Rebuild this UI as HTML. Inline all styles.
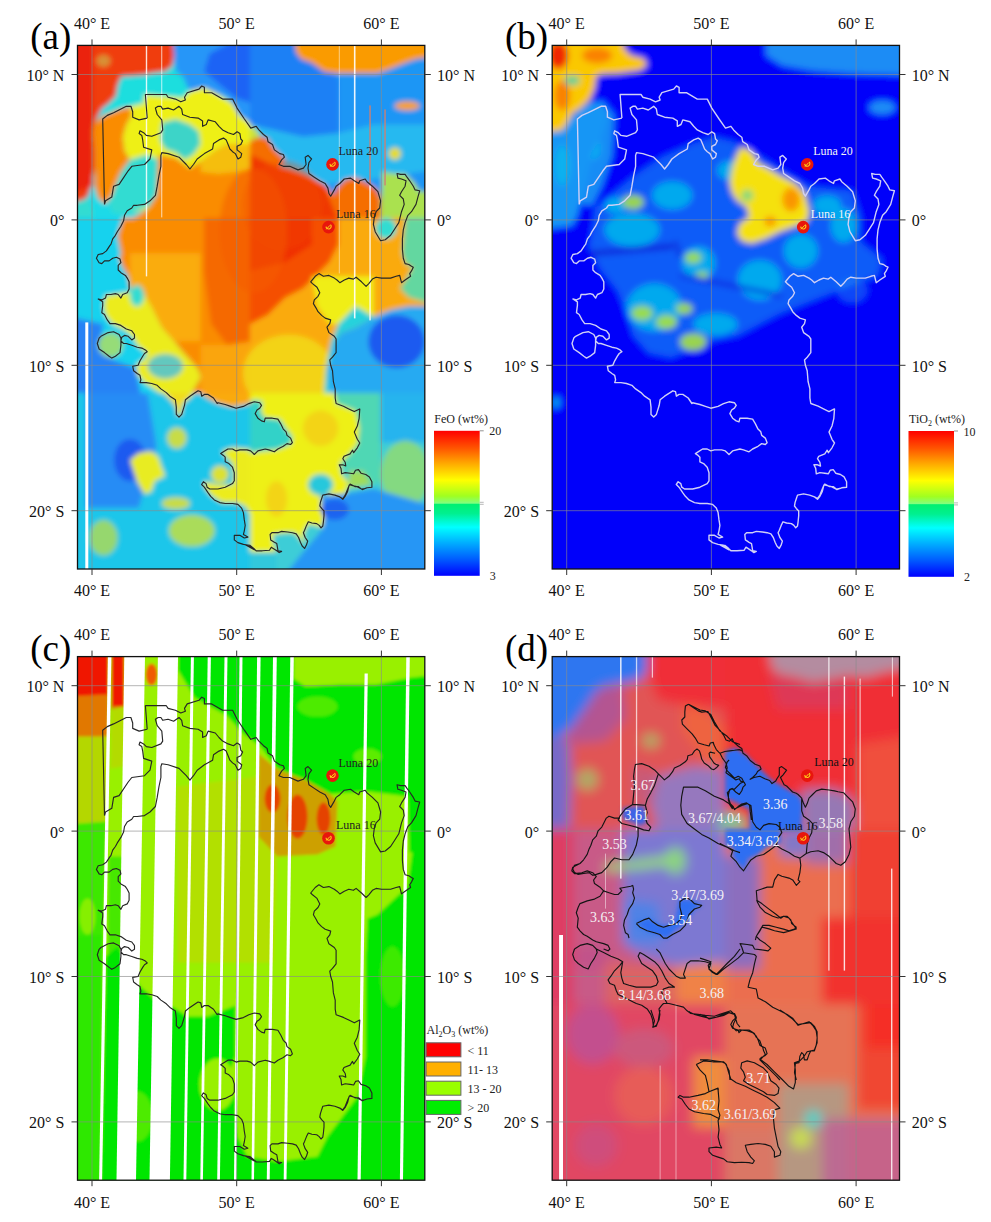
<!DOCTYPE html>
<html><head><meta charset="utf-8"><style>
html,body{margin:0;padding:0;background:#fff;}
svg{display:block;}
.t{font-family:"Liberation Serif",serif;font-size:16px;fill:#111;}
.s{font-family:"Liberation Serif",serif;font-size:12px;fill:#222;}
.lu{font-family:"Liberation Serif",serif;font-size:12px;}
.dl{font-family:"Liberation Serif",serif;font-size:14px;fill:#f4f0f4;}
.pl{font-family:"Liberation Serif",serif;font-size:37px;fill:#000;}
</style></head><body>
<svg width="991" height="1222" viewBox="0 0 991 1222">
<rect width="991" height="1222" fill="#fff"/>
<g transform="translate(77.5,45.4)"><svg x="0" y="0" width="347.3" height="523.6" viewBox="0 0 347.3 523.6" overflow="hidden"><filter id="fa" x="-5%" y="-5%" width="110%" height="110%"><feGaussianBlur stdDeviation="2.5"/></filter><g filter="url(#fa)"><rect x="-20" y="-20" width="390" height="570" fill="rgb(30,185,240)"/><polygon points="-15.0,-15.0 174.5,-15.0 174.5,174.6 -15.0,174.6" fill="rgb(30,218,232)"/><polygon points="-15.0,-15.0 94.9,-15.0 96.6,10.2 94.9,20.8 87.8,26.1 73.7,27.9 66.6,29.6 52.5,30.5 43.6,31.4 40.1,40.2 38.3,50.8 31.3,57.9 24.2,63.2 20.7,70.2 17.2,77.3 15.4,87.9 17.2,105.6 17.2,123.2 13.6,140.9 10.1,151.5 4.8,155.0 -15.0,158.5" fill="rgb(240,62,10)"/><polygon points="-15.0,-15.0 15.4,-15.0 15.4,140.9 -15.0,149.7" fill="rgb(235,35,10)"/><ellipse cx="26.0" cy="15.5" rx="7.1" ry="6.2" fill="rgb(200,200,80)" opacity="0.6"/><polygon points="17.2,77.3 26.0,70.2 34.8,66.7 43.6,63.2 52.5,61.4 54.2,70.2 48.9,79.1 45.4,91.4 47.2,105.6 52.5,114.4 43.6,126.7 38.3,139.1 34.8,149.7 27.8,158.5 20.7,153.2 17.2,140.9 17.2,105.6 15.4,87.9" fill="rgb(250,140,0)"/><polygon points="43.6,31.4 52.5,30.5 66.6,29.6 73.7,27.9 87.8,26.1 94.9,20.8 105.5,31.4 109.0,40.2 112.5,45.5 105.5,52.6 87.8,50.8 70.1,50.8 66.6,57.9 52.5,61.4 43.6,63.2 34.8,66.7 26.0,70.2 31.3,57.9 38.3,50.8 40.1,40.2" fill="rgb(30,222,222)"/><polygon points="94.9,-15.0 174.5,-15.0 174.5,79.1 167.3,73.8 158.4,66.7 154.9,57.9 149.6,52.6 140.8,49.0 133.7,45.5 126.6,42.0 121.3,43.7 112.5,45.5 109.0,40.2 105.5,31.4 98.4,26.1 96.6,10.2" fill="rgb(40,150,248)"/><polygon points="131.9,8.4 174.5,-15.0 174.5,57.9 158.4,52.6 140.8,38.4 126.6,26.1" fill="rgb(30,100,245)"/><polygon points="66.6,49.0 105.5,52.6 112.5,45.5 126.6,42.0 140.8,49.0 154.9,57.9 162.0,70.2 174.5,79.1 174.5,98.5 163.7,98.5 149.6,98.5 137.2,105.6 123.1,116.1 112.5,123.2 98.4,112.6 80.7,109.1 82.5,132.0 79.0,149.7 73.7,160.3 70.1,163.8 52.5,167.4 52.5,114.4 47.2,105.6 45.4,91.4 48.9,79.1 54.2,70.2 52.5,61.4 66.6,57.9" fill="rgb(238,240,22)"/><polygon points="84.3,77.3 98.4,73.8 112.5,79.1 121.3,86.1 123.1,98.5 116.0,109.1 107.2,114.4 98.4,107.3 87.8,103.8 82.5,95.0" fill="rgb(60,212,200)"/><polygon points="52.5,114.4 70.1,109.1 80.7,114.4 82.5,132.0 79.0,149.7 73.7,160.3 61.3,163.8 52.5,167.4 43.6,169.1 34.8,167.4 31.3,158.5 38.3,139.1 43.6,126.7" fill="rgb(50,220,210)"/><polygon points="80.7,109.1 98.4,112.6 112.5,123.2 123.1,116.1 137.2,105.6 149.6,98.5 163.7,98.5 174.5,98.5 174.5,174.6 52.5,174.6 70.1,163.8 79.0,149.7" fill="rgb(250,140,0)"/><polygon points="123.1,116.1 137.2,105.6 149.6,98.5 174.5,98.5 174.5,123.2 158.4,126.7 140.8,128.5 123.1,126.7" fill="rgb(245,190,10)"/><polygon points="-15.0,158.5 4.8,155.0 10.1,151.5 13.6,158.5 17.2,174.6 -15.0,174.6" fill="rgb(50,220,210)"/><polygon points="172.5,-15.0 362.0,-15.0 362.0,174.6 172.5,174.6" fill="rgb(30,150,245)"/><polygon points="172.5,-15.0 225.5,-15.0 260.8,34.9 260.8,87.9 225.5,91.4 172.5,79.1" fill="rgb(30,128,245)"/><polygon points="260.8,87.9 225.5,91.4 172.5,79.1 172.5,123.2 207.8,123.2 246.7,139.1 260.8,137.3 296.1,133.8 362.0,123.2 362.0,79.1 296.1,79.1" fill="rgb(40,185,240)"/><polygon points="216.6,-15.0 362.0,-15.0 362.0,10.2 338.5,13.7 327.9,17.3 319.1,20.8 310.2,24.3 299.6,27.9 278.5,27.9 260.8,27.9 246.7,26.1 234.3,17.3 223.7,13.7 218.4,6.7" fill="rgb(250,155,0)"/><polygon points="172.5,95.0 183.1,91.4 190.2,93.2 195.5,102.0 202.5,109.1 207.8,114.4 202.5,121.4 211.3,123.2 221.9,126.7 230.8,130.3 237.8,133.8 246.7,139.1 252.0,144.4 255.5,149.7 260.8,140.9 267.9,133.8 278.5,132.0 285.5,135.6 292.6,139.1 299.6,144.4 303.2,153.2 303.2,174.6 172.5,174.6" fill="rgb(245,110,0)"/><polygon points="172.5,109.1 199.0,121.4 225.5,130.3 246.7,140.9 260.8,174.6 172.5,174.6" fill="rgb(240,55,0)"/><polygon points="172.5,80.8 177.8,82.6 183.1,91.4 172.5,95.0" fill="rgb(200,225,60)"/><polygon points="304.9,126.7 319.1,128.5 327.9,128.5 336.7,137.3 342.0,146.2 362.0,146.2 362.0,174.6 303.2,174.6" fill="rgb(170,225,80)"/><ellipse cx="317.3" cy="108.2" rx="6.2" ry="6.2" fill="rgb(230,220,40)"/><ellipse cx="329.7" cy="60.5" rx="12.4" ry="4.4" fill="rgb(250,160,20)"/><polygon points="-15.0,172.6 174.5,172.6 174.5,347.6 -15.0,347.6" fill="rgb(25,210,238)"/><polygon points="-15.0,269.7 26.0,278.6 22.5,296.2 34.8,313.9 57.8,322.7 63.1,347.6 -15.0,347.6" fill="rgb(40,130,245)"/><ellipse cx="33.1" cy="299.7" rx="12.4" ry="12.4" fill="rgb(150,220,120)"/><polygon points="45.4,172.6 174.5,172.6 174.5,347.6 114.3,347.6 123.1,331.5 119.6,322.7 105.5,306.8 96.6,296.2 84.3,282.1 79.0,271.5 73.7,260.9 66.6,248.5 57.8,243.2 52.5,243.2 50.7,230.9 45.4,222.0 41.9,213.2 43.6,207.9 40.1,190.3" fill="rgb(250,140,0)"/><polygon points="52.5,207.9 123.1,207.9 123.1,296.2 96.6,296.2 84.3,282.1 79.0,271.5 73.7,260.9 66.6,248.5 57.8,243.2 52.5,243.2" fill="rgb(250,172,10)"/><polygon points="126.6,172.6 174.5,172.6 174.5,296.2 149.6,299.7 133.7,278.6 126.6,225.6" fill="rgb(245,105,0)"/><polygon points="123.1,299.7 149.6,299.7 174.5,296.2 174.5,347.6 123.1,347.6" fill="rgb(250,165,10)"/><polygon points="27.8,250.3 50.7,246.8 57.8,243.2 66.6,248.5 73.7,260.9 79.0,271.5 84.3,282.1 96.6,296.2 105.5,306.8 119.6,322.7 123.1,331.5 114.3,347.6 82.5,347.6 66.6,336.8 59.5,328.0 59.5,319.2 66.6,313.9 70.1,308.6 59.5,299.7 56.0,292.7 48.9,285.6 34.8,278.6 27.8,269.7 26.0,260.9" fill="rgb(236,236,30)"/><ellipse cx="59.5" cy="250.3" rx="7.1" ry="10.6" fill="rgb(50,220,210)"/><ellipse cx="87.8" cy="320.9" rx="17.7" ry="12.4" fill="rgb(100,200,190)"/><polygon points="172.5,172.6 362.0,172.6 362.0,347.6 172.5,347.6" fill="rgb(250,170,10)"/><polygon points="172.5,172.6 260.8,172.6 260.8,199.1 252.0,216.7 239.6,229.1 225.5,243.2 207.8,252.1 190.2,269.7 172.5,278.6" fill="rgb(245,80,0)"/><polygon points="172.5,172.6 234.3,172.6 234.3,199.1 207.8,216.7 172.5,225.6" fill="rgb(240,45,0)"/><polygon points="234.3,230.9 296.1,230.9 296.1,278.6 252.0,278.6 239.6,260.9" fill="rgb(240,238,25)"/><ellipse cx="211.3" cy="328.0" rx="45.9" ry="38.8" fill="rgb(242,215,22)" opacity="0.9"/><polygon points="327.9,172.6 362.0,172.6 362.0,260.9 331.4,252.1 322.6,243.2 327.9,234.4 335.0,222.0 327.9,218.5 324.4,207.9 326.1,190.3" fill="rgb(100,215,160)"/><ellipse cx="308.5" cy="183.2" rx="10.6" ry="10.6" fill="rgb(50,220,210)"/><polygon points="278.5,260.9 296.1,271.5 278.5,282.1 264.3,287.4 257.3,296.2 255.5,313.9 253.7,326.2 255.5,347.6 246.7,347.6 248.4,326.2 250.2,313.9 253.7,296.2 260.8,278.6" fill="rgb(40,210,220)"/><polygon points="362.0,260.9 331.4,260.9 313.8,264.4 296.1,271.5 278.5,282.1 264.3,287.4 257.3,296.2 253.7,313.9 250.2,322.7 252.0,347.6 362.0,347.6" fill="rgb(40,170,242)"/><ellipse cx="319.1" cy="296.2" rx="28.3" ry="26.5" fill="rgb(30,90,240)"/><polygon points="-15.0,347.6 174.5,347.6 174.5,540.0 -15.0,540.0" fill="rgb(30,198,234)"/><polygon points="8.3,347.6 70.1,347.6 79.0,400.6 61.3,462.4 8.3,462.4" fill="rgb(40,140,245)"/><ellipse cx="52.5" cy="414.7" rx="15.9" ry="21.2" fill="rgb(30,90,240)"/><polygon points="52.5,414.7 61.3,407.6 73.7,405.9 80.7,411.2 84.3,421.8 87.8,430.6 77.2,435.9 73.7,446.5 66.6,448.3 59.5,435.9 56.0,425.3" fill="rgb(232,236,32)"/><ellipse cx="99.3" cy="392.6" rx="9.7" ry="10.6" fill="rgb(200,220,70)"/><polygon points="86.0,347.6 116.0,347.6 112.5,352.9 105.5,358.2 103.7,368.8 100.2,370.6 98.4,361.7 93.1,354.7" fill="rgb(240,220,30)"/><polygon points="123.1,347.6 174.5,347.6 174.5,358.2 154.9,361.7 140.8,358.2 130.2,352.9" fill="rgb(250,170,10)"/><polygon points="144.3,405.9 154.9,402.3 174.5,404.1 174.5,471.2 167.3,460.6 158.4,457.1 144.3,457.1 133.7,450.0 126.6,441.2 126.6,435.9 133.7,437.7 140.8,439.4 154.9,439.4 156.7,430.6 154.9,418.2 149.6,412.9" fill="rgb(236,236,30)"/><ellipse cx="142.5" cy="428.8" rx="8.8" ry="8.8" fill="rgb(220,225,50)"/><ellipse cx="98.4" cy="458.0" rx="14.1" ry="6.2" fill="rgb(200,220,70)"/><ellipse cx="26.0" cy="492.4" rx="14.1" ry="17.7" fill="rgb(150,215,110)"/><ellipse cx="114.3" cy="485.3" rx="23.0" ry="15.9" fill="rgb(170,220,90)"/><polygon points="172.5,347.6 362.0,347.6 362.0,540.0 172.5,540.0" fill="rgb(60,205,215)"/><polygon points="186.6,347.6 257.3,347.6 259.0,358.2 278.5,365.3 282.0,382.9 280.2,398.8 271.4,409.4 262.6,418.2 264.3,428.8 271.4,437.7 267.9,448.3 260.8,453.6 246.7,450.0 243.1,457.1 246.7,471.2 244.9,481.8 230.8,478.3 225.5,488.9 227.2,499.5 221.9,492.4 216.6,487.1 207.8,487.1 195.5,488.9 195.5,497.7 199.0,506.5 172.5,506.5 172.5,407.6 181.3,405.9 199.0,404.1 213.1,398.8 214.9,391.7 207.8,382.9 202.5,374.1 186.6,372.3 183.1,365.3 184.9,356.4 177.8,354.7 172.5,356.4 172.5,347.6" fill="rgb(238,240,22)"/><ellipse cx="243.1" cy="382.9" rx="17.7" ry="17.7" fill="rgb(245,200,20)" opacity="0.7"/><ellipse cx="199.0" cy="453.6" rx="10.6" ry="17.7" fill="rgb(245,200,20)" opacity="0.7"/><polygon points="172.5,356.4 177.8,354.7 184.9,356.4 183.1,365.3 186.6,372.3 202.5,374.1 207.8,382.9 214.9,391.7 213.1,398.8 199.0,404.1 181.3,405.9 172.5,407.6" fill="rgb(50,210,200)"/><polygon points="257.3,347.6 303.2,347.6 303.2,435.9 294.3,439.4 285.5,425.3 278.5,423.5 267.9,427.1 264.3,418.2 271.4,409.4 280.2,398.8 282.0,382.9 278.5,365.3 259.0,358.2" fill="rgb(80,215,180)"/><polygon points="271.4,425.3 285.5,425.3 294.3,439.4 271.4,443.0" fill="rgb(160,220,90)"/><polygon points="303.2,347.6 362.0,347.6 362.0,397.0 303.2,397.0" fill="rgb(40,180,238)"/><ellipse cx="327.9" cy="428.8" rx="24.7" ry="33.6" fill="rgb(140,218,120)" opacity="0.9"/><ellipse cx="243.1" cy="439.4" rx="12.4" ry="10.6" fill="rgb(40,200,220)"/><polygon points="243.1,450.0 267.9,448.3 296.1,443.0 362.0,462.4 362.0,540.0 199.0,540.0 225.5,506.5 244.9,483.6 246.7,471.2" fill="rgb(40,150,245)"/><ellipse cx="257.3" cy="464.1" rx="14.1" ry="10.6" fill="rgb(30,100,240)"/><polygon points="172.5,506.5 199.0,506.5 199.0,540.0 172.5,540.0" fill="rgb(50,200,220)"/><ellipse cx="176.0" cy="185.0" rx="34.0" ry="62.0" fill="rgb(244,92,0)" opacity="0.55"/><ellipse cx="205.0" cy="160.0" rx="40.0" ry="45.0" fill="rgb(244,80,0)" opacity="0.35"/></g><rect x="7.8" y="277" width="3.0" height="247" fill="#fff" opacity="1"/><rect x="68.3" y="0" width="1.4" height="231" fill="#fff" opacity="0.85"/><rect x="83.6" y="0" width="1.2" height="172" fill="#fff" opacity="0.6"/><rect x="261.3" y="0" width="1.0" height="228" fill="#fff" opacity="0.5"/><rect x="276.4" y="0" width="1.6" height="273" fill="#fff" opacity="0.9"/><rect x="291.8" y="60" width="1.5" height="80" fill="#d08070" opacity="0.9"/><rect x="291.8" y="140" width="1.5" height="135" fill="#fff" opacity="0.8"/><rect x="306.8" y="64" width="1.5" height="76" fill="#d08070" opacity="0.9"/><line x1="14.5" y1="0" x2="14.5" y2="523.6" stroke="#8a8a8a" stroke-width="0.8" opacity="0.8"/>
<line x1="159.2" y1="0" x2="159.2" y2="523.6" stroke="#8a8a8a" stroke-width="0.8" opacity="0.8"/>
<line x1="303.9" y1="0" x2="303.9" y2="523.6" stroke="#8a8a8a" stroke-width="0.8" opacity="0.8"/>
<line x1="0" y1="29.1" x2="347.3" y2="29.1" stroke="#8a8a8a" stroke-width="0.8" opacity="0.8"/>
<line x1="0" y1="174.5" x2="347.3" y2="174.5" stroke="#8a8a8a" stroke-width="0.8" opacity="0.8"/>
<line x1="0" y1="319.9" x2="347.3" y2="319.9" stroke="#8a8a8a" stroke-width="0.8" opacity="0.8"/>
<line x1="0" y1="465.3" x2="347.3" y2="465.3" stroke="#8a8a8a" stroke-width="0.8" opacity="0.8"/><path d="M27.0,159.0 L25.2,73.6 L29.8,70.0 L36.1,67.3 L48.8,60.9 L53.4,60.9 L55.2,66.4 L55.2,71.8 L61.6,74.5 L69.7,72.7 M69.7,72.7 L67.9,49.1 L88.8,49.1 L90.6,51.8 L97.9,53.7 L103.3,56.4 L107.9,54.6 L107.0,51.8 L109.7,47.3 L121.5,43.7 L124.2,40.6 L126.9,41.9 L126.9,47.3 L134.2,47.3 L145.1,53.7 L155.1,53.7 L159.6,62.7 L166.9,73.6 L173.3,82.7 L178.7,80.9 L181.4,84.5 L186.0,89.1 L189.6,91.8 L190.5,96.3 L195.0,99.1 L196.9,104.5 L202.3,108.2 L205.9,109.1 L206.9,111.8 L204.1,114.5 L201.4,119.1 L205.9,120.9 L212.3,120.9 L220.5,124.5 L225.9,122.7 L228.6,119.1 L227.7,111.8 L230.5,110.0 L234.1,113.6 L231.4,117.2 L230.5,122.7 L231.4,128.1 L236.8,131.8 L242.3,135.4 L247.7,138.1 L250.4,142.7 L251.4,148.1 L253.2,150.8 L256.8,144.5 L258.6,140.8 L262.3,138.1 L266.8,133.6 L273.1,132.7 L276.8,135.4 L281.3,138.1 L282.2,135.4 L287.7,133.6 L289.5,136.3 L294.9,140.8 L300.4,146.3 L303.1,155.4 L302.2,162.6 L298.6,166.3 L296.8,171.7 L295.9,179.0 L297.7,186.3 L303.1,195.3 L307.7,194.4 L313.1,189.9 L316.7,184.4 L321.3,177.2 L324.0,166.3 L326.7,159.0 L325.8,153.6 L322.2,149.9 L324.0,146.3 L327.6,140.8 L328.5,135.4 L324.0,133.6 L320.4,132.7 L319.5,128.1 L323.1,129.0 L327.6,129.0 L329.5,131.8 L332.2,135.4 L335.8,140.8 L337.6,144.5 L342.2,145.4 L340.4,151.7 L338.5,159.0 L334.0,166.3 L330.4,169.9 L327.6,177.2 L325.8,184.4 L324.9,193.5 L324.9,203.7 L325.8,212.8 L327.6,218.2 L331.3,219.1 L334.0,220.9 L335.8,221.8 L334.0,225.5 L332.2,228.2 L333.1,230.9 L327.6,234.6 L324.0,237.3 L322.2,230.0 L318.6,230.9 L313.1,232.7 L304.0,232.7 L298.6,231.8 L294.9,233.7 L291.3,238.2 L288.6,240.9 L284.0,236.4 L278.6,231.8 L275.9,233.7 L271.3,232.7 L266.8,234.6 L262.3,237.3 L259.5,234.6 L256.8,232.7 L251.4,230.0 L245.9,230.9 L241.4,228.2 L237.7,230.9 L233.2,236.4 L235.0,238.2 L239.5,241.8 L242.3,247.3 L240.5,250.9 L236.8,254.5 L235.9,258.2 L238.6,262.7 L240.5,266.3 L244.1,270.0 L247.7,272.7 L253.2,274.5 L252.3,278.2 L249.5,281.8 L251.4,287.2 L256.8,290.9 L258.6,293.6 L258.6,307.2 L255.0,311.8 L252.3,314.5 L253.2,319.9 L255.0,325.4 L255.9,336.3 L257.7,343.5 L257.7,352.6 L258.6,358.1 L265.9,360.8 L271.3,363.5 L276.8,366.2 L282.2,363.5 L282.3,363.7 L281.6,373.3 L279.8,380.6 L276.8,386.7 L279.8,393.9 L282.3,397.6 L279.8,402.4 L276.2,407.3 L275.0,404.8 L272.6,408.5 L266.5,410.9 L265.3,413.3 L267.7,416.9 L268.3,420.6 L265.3,419.4 L261.7,419.4 L263.5,423.0 L264.1,428.4 L267.7,427.2 L272.6,427.8 L276.2,428.4 L278.0,424.8 L281.0,424.2 L283.5,427.8 L288.3,429.1 L291.9,431.5 L294.4,436.3 L294.4,441.8 L289.5,442.4 L284.7,444.2 L281.0,441.2 L277.4,441.2 L272.6,438.7 L271.4,440.6 L270.1,446.0 L267.7,450.8 L265.3,453.9 L262.3,451.5 L257.4,449.7 L251.4,448.5 L245.3,449.7 L244.1,453.3 L242.9,457.0 L242.3,460.6 L244.1,463.0 L246.5,465.5 L246.5,470.3 L245.9,476.4 L245.3,480.6 L243.5,482.4 L241.7,480.0 L239.2,478.2 L234.4,477.6 L230.8,476.4 L229.0,480.0 L227.1,484.8 L225.9,487.3 L227.7,492.1 L230.2,495.7 L229.0,499.4 L227.1,503.0 L224.7,500.6 L222.9,496.9 L221.1,492.1 L218.7,488.5 L215.0,487.3 L210.2,486.6 L204.1,486.0 L200.5,487.3 L194.4,487.3 L192.6,489.1 L193.2,494.5 L196.9,496.9 L199.3,498.2 L199.9,501.8 L200.5,505.4 L204.1,506.0 L201.7,507.2 L199.3,505.4 L195.7,503.0 L193.8,501.8 L192.0,504.8 L184.8,505.4 L178.7,505.4 L176.3,503.0 L172.6,500.0 L167.8,499.4 L176.8,504.4 L171.3,499.9 L165.9,499.0 L160.4,497.2 L156.8,494.5 L156.8,489.9 L162.3,489.9 L166.8,492.6 L170.4,491.7 L165.9,489.0 L166.8,485.4 L167.7,479.9 L166.8,474.5 L165.9,467.2 L164.1,462.7 L160.4,459.0 L155.0,458.1 L147.7,458.1 L142.3,457.2 L136.8,454.5 L133.2,450.9 L130.5,447.2 L126.8,441.8 L124.1,439.1 L125.9,436.3 L128.6,438.2 L129.6,441.8 L132.3,443.6 L140.5,443.6 L147.7,441.8 L155.0,438.2 L156.8,435.4 L156.8,427.3 L155.0,421.8 L151.4,418.2 L147.7,416.4 L147.7,411.8 L145.9,410.0 L143.2,408.2 L145.9,406.4 L150.4,403.6 L155.0,403.6 L158.6,405.5 L162.3,404.5 L169.5,404.5 L173.1,405.5 L175.0,407.3 L176.8,409.1 L180.4,405.5 L187.7,403.6 L191.3,404.5 L196.8,406.4 L200.4,403.6 L205.8,400.9 L209.5,398.2 L213.1,399.1 L214.9,397.3 L213.1,392.7 L209.5,390.0 L208.6,386.4 L205.8,383.7 L203.1,378.2 L200.4,373.7 L194.9,372.8 L187.7,372.8 L186.8,376.4 L184.0,375.5 L180.4,372.8 L177.7,368.2 L179.5,364.6 L182.2,362.8 L184.0,360.0 L182.2,357.3 L176.8,356.4 L171.3,358.2 L165.9,361.0 L158.6,362.8 L153.2,361.0 L147.7,359.1 L140.5,357.3 L139.7,358.1 L136.0,352.6 L130.6,349.0 L126.9,349.0 L124.2,350.8 L123.3,346.3 L120.6,345.4 L117.9,347.2 L112.4,350.8 L107.9,354.4 L107.0,359.9 L104.2,369.0 L101.5,371.7 L98.8,369.0 L98.8,361.7 L97.9,354.4 L92.4,350.8 L88.8,347.2 L83.4,343.5 L79.7,339.9 L74.3,338.1 L68.8,337.2 L62.5,337.2 L63.4,334.5 L62.5,329.9 L59.7,328.1 L56.1,325.4 L55.2,320.8 L60.6,319.9 L62.5,315.4 L65.2,310.8 L67.0,308.1 L69.7,306.3 L67.9,304.5 L64.3,302.7 L59.7,301.8 L54.3,299.9 L48.8,298.1 L46.1,298.1 L43.4,295.4 L44.3,291.8 L47.0,290.0 L50.7,290.9 L54.3,294.5 L57.0,292.7 L57.0,289.1 L54.3,285.4 L48.8,283.6 L43.4,280.0 L37.9,278.2 L32.5,278.2 L29.8,274.5 L27.0,269.1 L24.3,267.3 L25.2,260.0 L25.2,256.4 L20.7,253.6 L24.3,254.5 L28.0,252.7 L28.9,249.1 L33.4,249.1 L37.9,248.2 L40.7,249.1 L43.4,252.7 L45.2,249.1 L49.7,247.3 L51.6,243.6 L51.6,236.4 L49.7,232.7 L47.9,230.0 L43.4,227.3 L40.7,224.6 L40.7,220.0 L43.4,217.3 L42.5,213.7 L38.9,211.9 L35.2,212.8 L31.6,215.5 L27.0,215.5 L24.3,218.2 L21.6,217.3 L18.9,212.8 L20.7,209.1 L25.2,208.2 L28.9,205.5 L32.5,200.0 L33.4,199.0 L35.2,193.5 L37.9,189.9 L39.8,186.3 L43.4,180.8 L46.1,175.4 L47.0,169.9 L49.7,165.4 L54.3,162.6 L56.1,159.9 L59.7,159.9 L67.0,159.0 L72.5,155.4 L77.9,149.9 L79.7,140.8 L81.5,129.9 L83.4,120.9 L83.4,110.0 L84.3,107.2 L90.6,108.2 L101.5,111.8 L108.8,119.1 L112.4,123.6 L116.0,119.1 L119.7,113.6 L126.9,108.2 L135.1,103.6 L136.0,98.2 L141.5,94.5 L146.0,92.7 L148.7,94.5 L150.6,99.1 L152.4,103.6 L155.1,106.3 L157.8,108.2 L160.5,113.6 L163.3,111.8 L164.2,108.2 L159.6,104.5 L159.6,100.9 L163.3,99.1 L165.1,95.4 L163.3,93.6 L162.4,88.2 L159.6,86.4 L156.0,89.1 L150.6,87.3 L145.1,84.5 L141.5,80.9 L137.8,76.4 L130.6,74.5 L128.8,79.1 L125.1,80.9 L125.1,75.5 L120.6,72.7 L112.4,71.8 L105.1,69.1 L104.2,63.7 L101.5,60.9 L96.1,64.6 L90.6,62.7 L85.2,63.7 L83.4,60.9 L80.6,60.9 L77.9,62.7 L79.7,69.1 L84.3,74.5 L85.2,84.5 L83.4,87.3 L74.3,90.9 L68.8,90.0 L66.1,87.3 L62.5,85.4 L61.6,88.2 L64.3,90.0 L65.2,94.5 L66.1,101.8 L74.3,104.5 L72.5,113.6 L67.0,119.1 L54.3,120.9 L50.7,125.4 L41.6,139.0 L36.1,140.8 L34.3,151.7 L28.0,155.4 L27.0,159.0 M23.4,290.9 L30.7,287.2 L36.1,286.3 L41.6,289.1 L43.4,292.7 L43.4,299.9 L42.5,307.2 L37.9,310.8 L34.3,312.7 L31.6,310.8 L27.0,307.2 L21.6,303.6 L19.8,298.1 L21.6,292.7 L23.4,290.9 M287.8,443.1 L284.0,443.7 L279.2,441.2 L271.9,439.4 L270.1,443.7 L267.7,449.7 L265.3,453.3 L262.3,451.5" fill="none" stroke="#262626" stroke-width="1.15" stroke-linejoin="round"/><circle cx="255" cy="119" r="6.3" fill="#e8160c"/><path d="M252.5,118.5 a2.6,2.6 0 1 0 4.5,-2" fill="none" stroke="#ffd21a" stroke-width="1.1"/><path d="M252.8,121.2 L256.5,117.2" stroke="#ffd21a" stroke-width="1"/><circle cx="251" cy="181.7" r="6.3" fill="#e8160c"/><path d="M248.5,181.2 a2.6,2.6 0 1 0 4.5,-2" fill="none" stroke="#ffd21a" stroke-width="1.1"/><path d="M248.8,183.89999999999998 L252.5,179.89999999999998" stroke="#ffd21a" stroke-width="1"/><text x="261" y="110" class="lu" fill="#222">Luna 20</text><text x="258.5" y="172.7" class="lu" fill="#222">Luna 16</text></svg><rect x="0" y="0" width="347.3" height="523.6" fill="none" stroke="#111" stroke-width="1.3"/></g>
<line x1="92.0" y1="39.4" x2="92.0" y2="45.4" stroke="#333" stroke-width="1"/>
<line x1="92.0" y1="569.0" x2="92.0" y2="575.0" stroke="#333" stroke-width="1"/>
<text x="92.0" y="28.7" text-anchor="middle" class="t">40° E</text>
<text x="92.0" y="596.3" text-anchor="middle" class="t">40° E</text>
<line x1="236.7" y1="39.4" x2="236.7" y2="45.4" stroke="#333" stroke-width="1"/>
<line x1="236.7" y1="569.0" x2="236.7" y2="575.0" stroke="#333" stroke-width="1"/>
<text x="236.7" y="28.7" text-anchor="middle" class="t">50° E</text>
<text x="236.7" y="596.3" text-anchor="middle" class="t">50° E</text>
<line x1="381.4" y1="39.4" x2="381.4" y2="45.4" stroke="#333" stroke-width="1"/>
<line x1="381.4" y1="569.0" x2="381.4" y2="575.0" stroke="#333" stroke-width="1"/>
<text x="381.4" y="28.7" text-anchor="middle" class="t">60° E</text>
<text x="381.4" y="596.3" text-anchor="middle" class="t">60° E</text>
<line x1="71.5" y1="74.5" x2="77.5" y2="74.5" stroke="#333" stroke-width="1"/>
<line x1="424.8" y1="74.5" x2="430.8" y2="74.5" stroke="#333" stroke-width="1"/>
<text x="64.4" y="80.9" text-anchor="end" class="t">10° N</text>
<text x="437.0" y="80.9" class="t">10° N</text>
<line x1="71.5" y1="219.9" x2="77.5" y2="219.9" stroke="#333" stroke-width="1"/>
<line x1="424.8" y1="219.9" x2="430.8" y2="219.9" stroke="#333" stroke-width="1"/>
<text x="64.4" y="226.3" text-anchor="end" class="t">0°</text>
<text x="437.0" y="226.3" class="t">0°</text>
<line x1="71.5" y1="365.3" x2="77.5" y2="365.3" stroke="#333" stroke-width="1"/>
<line x1="424.8" y1="365.3" x2="430.8" y2="365.3" stroke="#333" stroke-width="1"/>
<text x="64.4" y="371.7" text-anchor="end" class="t">10° S</text>
<text x="437.0" y="371.7" class="t">10° S</text>
<line x1="71.5" y1="510.7" x2="77.5" y2="510.7" stroke="#333" stroke-width="1"/>
<line x1="424.8" y1="510.7" x2="430.8" y2="510.7" stroke="#333" stroke-width="1"/>
<text x="64.4" y="517.1" text-anchor="end" class="t">20° S</text>
<text x="437.0" y="517.1" class="t">20° S</text>
<text x="30.2" y="49.4" class="pl">(a)</text>
<g transform="translate(552.2,45.4)"><svg x="0" y="0" width="347.3" height="523.6" viewBox="0 0 347.3 523.6" overflow="hidden"><filter id="fb" x="-5%" y="-5%" width="110%" height="110%"><feGaussianBlur stdDeviation="3"/></filter><g filter="url(#fb)"><rect x="-20" y="-20" width="390" height="570" fill="rgb(2,2,250)"/><polygon points="42.7,162.5 64.1,145.3 85.5,128.2 111.2,111.1 141.2,98.2 162.7,91.8 179.8,96.1 192.7,102.5 214.1,115.3 227.0,123.9 257.0,141.0 299.8,145.3 308.4,171.0 308.4,196.7 329.8,213.9 325.5,231.0 299.8,239.6 260.0,255.0 227.8,267.8 185.4,290.0 163.2,294.4 141.0,303.3 118.8,312.2 96.6,307.7 81.0,290.0 74.4,267.8 65.5,245.6 47.8,223.4 36.7,201.2 41.1,179.0" fill="rgb(8,92,248)"/><ellipse cx="79.9" cy="184.5" rx="27.7" ry="16.6" fill="rgb(0,195,235)" opacity="0.75"/><ellipse cx="146.5" cy="217.8" rx="16.6" ry="16.6" fill="rgb(0,195,235)" opacity="0.75"/><ellipse cx="102.1" cy="262.2" rx="27.7" ry="24.0" fill="rgb(0,195,235)" opacity="0.75"/><ellipse cx="207.6" cy="234.5" rx="22.0" ry="20.0" fill="rgb(0,195,235)" opacity="0.75"/><ellipse cx="163.2" cy="278.9" rx="22.0" ry="11.0" fill="rgb(0,195,235)" opacity="0.75"/><ellipse cx="63.3" cy="160.1" rx="11.0" ry="8.0" fill="rgb(0,195,235)" opacity="0.75"/><ellipse cx="248.6" cy="205.7" rx="17.0" ry="17.0" fill="rgb(0,195,235)" opacity="0.75"/><ellipse cx="291.4" cy="180.0" rx="13.0" ry="17.0" fill="rgb(0,195,235)" opacity="0.75"/><ellipse cx="120.0" cy="150.0" rx="20.0" ry="14.0" fill="rgb(0,195,235)" opacity="0.75"/><ellipse cx="180.0" cy="125.0" rx="15.0" ry="10.0" fill="rgb(0,195,235)" opacity="0.75"/><ellipse cx="275.0" cy="160.0" rx="14.0" ry="10.0" fill="rgb(0,195,235)" opacity="0.75"/><ellipse cx="81.0" cy="156.8" rx="10.8" ry="7.2" fill="rgb(170,225,60)" opacity="0.9"/><ellipse cx="89.9" cy="267.8" rx="10.8" ry="7.2" fill="rgb(170,225,60)" opacity="0.9"/><ellipse cx="114.3" cy="276.7" rx="10.8" ry="7.2" fill="rgb(170,225,60)" opacity="0.9"/><ellipse cx="141.0" cy="296.6" rx="13.2" ry="8.8" fill="rgb(170,225,60)" opacity="0.9"/><ellipse cx="132.1" cy="263.3" rx="8.4" ry="5.6" fill="rgb(170,225,60)" opacity="0.9"/><ellipse cx="141.0" cy="212.3" rx="8.4" ry="5.6" fill="rgb(170,225,60)" opacity="0.9"/><ellipse cx="149.9" cy="230.0" rx="6.0" ry="4.0" fill="rgb(170,225,60)" opacity="0.9"/><line x1="41.1" y1="207.9" x2="118.8" y2="201.2" stroke="rgb(10,20,215)" stroke-width="5" stroke-linecap="round"/><line x1="123.2" y1="196.8" x2="127.7" y2="210.1" stroke="rgb(10,20,215)" stroke-width="3" stroke-linecap="round"/><line x1="129.9" y1="230" x2="227.8" y2="250" stroke="rgb(10,30,225)" stroke-width="4" stroke-linecap="round"/><polygon points="26.0,64.0 50.0,55.0 62.0,70.0 60.0,110.0 50.0,140.0 40.0,160.0 27.0,158.0" fill="rgb(20,140,245)"/><ellipse cx="40.0" cy="100.0" rx="8.0" ry="14.0" fill="rgb(0,195,235)" opacity="0.7"/><polygon points="177.4,137.6 179.8,123.0 184.7,108.5 189.5,101.2 199.2,106.1 206.5,118.2 216.2,123.0 228.3,130.3 242.8,137.6 252.5,147.3 257.3,166.6 254.9,176.3 242.8,181.2 228.3,186.0 213.7,193.3 199.2,198.1 189.5,195.7 184.7,188.4 187.1,178.7 196.8,171.5 194.4,161.8 184.7,155.0 179.8,147.3" fill="rgb(245,225,10)"/><ellipse cx="239.0" cy="154.0" rx="9.0" ry="12.0" fill="rgb(250,150,0)"/><ellipse cx="218.0" cy="176.0" rx="6.0" ry="5.0" fill="rgb(250,150,0)"/><ellipse cx="195.0" cy="150.0" rx="6.0" ry="6.0" fill="rgb(60,210,200)" opacity="0.6"/><polygon points="-15.0,-15.0 70.0,-15.0 72.0,3.0 78.6,9.8 91.7,13.0 95.0,19.6 88.4,24.5 65.5,27.8 49.0,28.6 44.0,31.0 42.6,42.5 37.7,54.0 29.5,62.0 19.6,68.8 16.4,78.6 9.8,85.0 3.3,88.4 -15.0,91.7" fill="rgb(250,200,0)"/><ellipse cx="6.0" cy="10.0" rx="10.0" ry="14.0" fill="rgb(240,40,0)"/><ellipse cx="45.0" cy="10.0" rx="15.0" ry="8.0" fill="rgb(250,130,0)"/><ellipse cx="10.0" cy="50.0" rx="8.0" ry="15.0" fill="rgb(250,130,0)"/><ellipse cx="20.0" cy="35.0" rx="8.0" ry="5.0" fill="rgb(60,210,190)" opacity="0.8"/><polygon points="-15.0,88.0 10.0,85.0 20.0,70.0 30.0,62.0 40.0,56.0 50.0,60.0 55.0,70.0 50.0,90.0 40.0,110.0 35.0,130.0 30.0,150.0 25.0,170.0 20.0,180.0 -15.0,185.0" fill="rgb(20,150,245)"/><ellipse cx="10.0" cy="120.0" rx="8.0" ry="20.0" fill="rgb(0,195,235)" opacity="0.6"/><polygon points="214.0,-15.0 362.0,-15.0 362.0,30.0 300.0,28.0 260.0,25.0 230.0,20.0 214.0,10.0" fill="rgb(30,140,245)"/><ellipse cx="330.0" cy="62.0" rx="13.0" ry="7.0" fill="rgb(30,140,245)"/><ellipse cx="300.0" cy="245.0" rx="15.0" ry="12.0" fill="rgb(30,140,245)" opacity="0.5"/><ellipse cx="4.0" cy="357.0" rx="4.0" ry="6.0" fill="rgb(0,195,235)" opacity="0.8"/></g><line x1="14.5" y1="0" x2="14.5" y2="523.6" stroke="#8a8a8a" stroke-width="0.8" opacity="0.8"/>
<line x1="159.2" y1="0" x2="159.2" y2="523.6" stroke="#8a8a8a" stroke-width="0.8" opacity="0.8"/>
<line x1="303.9" y1="0" x2="303.9" y2="523.6" stroke="#8a8a8a" stroke-width="0.8" opacity="0.8"/>
<line x1="0" y1="29.1" x2="347.3" y2="29.1" stroke="#8a8a8a" stroke-width="0.8" opacity="0.8"/>
<line x1="0" y1="174.5" x2="347.3" y2="174.5" stroke="#8a8a8a" stroke-width="0.8" opacity="0.8"/>
<line x1="0" y1="319.9" x2="347.3" y2="319.9" stroke="#8a8a8a" stroke-width="0.8" opacity="0.8"/>
<line x1="0" y1="465.3" x2="347.3" y2="465.3" stroke="#8a8a8a" stroke-width="0.8" opacity="0.8"/><path d="M27.0,159.0 L25.2,73.6 L29.8,70.0 L36.1,67.3 L48.8,60.9 L53.4,60.9 L55.2,66.4 L55.2,71.8 L61.6,74.5 L69.7,72.7 M69.7,72.7 L67.9,49.1 L88.8,49.1 L90.6,51.8 L97.9,53.7 L103.3,56.4 L107.9,54.6 L107.0,51.8 L109.7,47.3 L121.5,43.7 L124.2,40.6 L126.9,41.9 L126.9,47.3 L134.2,47.3 L145.1,53.7 L155.1,53.7 L159.6,62.7 L166.9,73.6 L173.3,82.7 L178.7,80.9 L181.4,84.5 L186.0,89.1 L189.6,91.8 L190.5,96.3 L195.0,99.1 L196.9,104.5 L202.3,108.2 L205.9,109.1 L206.9,111.8 L204.1,114.5 L201.4,119.1 L205.9,120.9 L212.3,120.9 L220.5,124.5 L225.9,122.7 L228.6,119.1 L227.7,111.8 L230.5,110.0 L234.1,113.6 L231.4,117.2 L230.5,122.7 L231.4,128.1 L236.8,131.8 L242.3,135.4 L247.7,138.1 L250.4,142.7 L251.4,148.1 L253.2,150.8 L256.8,144.5 L258.6,140.8 L262.3,138.1 L266.8,133.6 L273.1,132.7 L276.8,135.4 L281.3,138.1 L282.2,135.4 L287.7,133.6 L289.5,136.3 L294.9,140.8 L300.4,146.3 L303.1,155.4 L302.2,162.6 L298.6,166.3 L296.8,171.7 L295.9,179.0 L297.7,186.3 L303.1,195.3 L307.7,194.4 L313.1,189.9 L316.7,184.4 L321.3,177.2 L324.0,166.3 L326.7,159.0 L325.8,153.6 L322.2,149.9 L324.0,146.3 L327.6,140.8 L328.5,135.4 L324.0,133.6 L320.4,132.7 L319.5,128.1 L323.1,129.0 L327.6,129.0 L329.5,131.8 L332.2,135.4 L335.8,140.8 L337.6,144.5 L342.2,145.4 L340.4,151.7 L338.5,159.0 L334.0,166.3 L330.4,169.9 L327.6,177.2 L325.8,184.4 L324.9,193.5 L324.9,203.7 L325.8,212.8 L327.6,218.2 L331.3,219.1 L334.0,220.9 L335.8,221.8 L334.0,225.5 L332.2,228.2 L333.1,230.9 L327.6,234.6 L324.0,237.3 L322.2,230.0 L318.6,230.9 L313.1,232.7 L304.0,232.7 L298.6,231.8 L294.9,233.7 L291.3,238.2 L288.6,240.9 L284.0,236.4 L278.6,231.8 L275.9,233.7 L271.3,232.7 L266.8,234.6 L262.3,237.3 L259.5,234.6 L256.8,232.7 L251.4,230.0 L245.9,230.9 L241.4,228.2 L237.7,230.9 L233.2,236.4 L235.0,238.2 L239.5,241.8 L242.3,247.3 L240.5,250.9 L236.8,254.5 L235.9,258.2 L238.6,262.7 L240.5,266.3 L244.1,270.0 L247.7,272.7 L253.2,274.5 L252.3,278.2 L249.5,281.8 L251.4,287.2 L256.8,290.9 L258.6,293.6 L258.6,307.2 L255.0,311.8 L252.3,314.5 L253.2,319.9 L255.0,325.4 L255.9,336.3 L257.7,343.5 L257.7,352.6 L258.6,358.1 L265.9,360.8 L271.3,363.5 L276.8,366.2 L282.2,363.5 L282.3,363.7 L281.6,373.3 L279.8,380.6 L276.8,386.7 L279.8,393.9 L282.3,397.6 L279.8,402.4 L276.2,407.3 L275.0,404.8 L272.6,408.5 L266.5,410.9 L265.3,413.3 L267.7,416.9 L268.3,420.6 L265.3,419.4 L261.7,419.4 L263.5,423.0 L264.1,428.4 L267.7,427.2 L272.6,427.8 L276.2,428.4 L278.0,424.8 L281.0,424.2 L283.5,427.8 L288.3,429.1 L291.9,431.5 L294.4,436.3 L294.4,441.8 L289.5,442.4 L284.7,444.2 L281.0,441.2 L277.4,441.2 L272.6,438.7 L271.4,440.6 L270.1,446.0 L267.7,450.8 L265.3,453.9 L262.3,451.5 L257.4,449.7 L251.4,448.5 L245.3,449.7 L244.1,453.3 L242.9,457.0 L242.3,460.6 L244.1,463.0 L246.5,465.5 L246.5,470.3 L245.9,476.4 L245.3,480.6 L243.5,482.4 L241.7,480.0 L239.2,478.2 L234.4,477.6 L230.8,476.4 L229.0,480.0 L227.1,484.8 L225.9,487.3 L227.7,492.1 L230.2,495.7 L229.0,499.4 L227.1,503.0 L224.7,500.6 L222.9,496.9 L221.1,492.1 L218.7,488.5 L215.0,487.3 L210.2,486.6 L204.1,486.0 L200.5,487.3 L194.4,487.3 L192.6,489.1 L193.2,494.5 L196.9,496.9 L199.3,498.2 L199.9,501.8 L200.5,505.4 L204.1,506.0 L201.7,507.2 L199.3,505.4 L195.7,503.0 L193.8,501.8 L192.0,504.8 L184.8,505.4 L178.7,505.4 L176.3,503.0 L172.6,500.0 L167.8,499.4 L176.8,504.4 L171.3,499.9 L165.9,499.0 L160.4,497.2 L156.8,494.5 L156.8,489.9 L162.3,489.9 L166.8,492.6 L170.4,491.7 L165.9,489.0 L166.8,485.4 L167.7,479.9 L166.8,474.5 L165.9,467.2 L164.1,462.7 L160.4,459.0 L155.0,458.1 L147.7,458.1 L142.3,457.2 L136.8,454.5 L133.2,450.9 L130.5,447.2 L126.8,441.8 L124.1,439.1 L125.9,436.3 L128.6,438.2 L129.6,441.8 L132.3,443.6 L140.5,443.6 L147.7,441.8 L155.0,438.2 L156.8,435.4 L156.8,427.3 L155.0,421.8 L151.4,418.2 L147.7,416.4 L147.7,411.8 L145.9,410.0 L143.2,408.2 L145.9,406.4 L150.4,403.6 L155.0,403.6 L158.6,405.5 L162.3,404.5 L169.5,404.5 L173.1,405.5 L175.0,407.3 L176.8,409.1 L180.4,405.5 L187.7,403.6 L191.3,404.5 L196.8,406.4 L200.4,403.6 L205.8,400.9 L209.5,398.2 L213.1,399.1 L214.9,397.3 L213.1,392.7 L209.5,390.0 L208.6,386.4 L205.8,383.7 L203.1,378.2 L200.4,373.7 L194.9,372.8 L187.7,372.8 L186.8,376.4 L184.0,375.5 L180.4,372.8 L177.7,368.2 L179.5,364.6 L182.2,362.8 L184.0,360.0 L182.2,357.3 L176.8,356.4 L171.3,358.2 L165.9,361.0 L158.6,362.8 L153.2,361.0 L147.7,359.1 L140.5,357.3 L139.7,358.1 L136.0,352.6 L130.6,349.0 L126.9,349.0 L124.2,350.8 L123.3,346.3 L120.6,345.4 L117.9,347.2 L112.4,350.8 L107.9,354.4 L107.0,359.9 L104.2,369.0 L101.5,371.7 L98.8,369.0 L98.8,361.7 L97.9,354.4 L92.4,350.8 L88.8,347.2 L83.4,343.5 L79.7,339.9 L74.3,338.1 L68.8,337.2 L62.5,337.2 L63.4,334.5 L62.5,329.9 L59.7,328.1 L56.1,325.4 L55.2,320.8 L60.6,319.9 L62.5,315.4 L65.2,310.8 L67.0,308.1 L69.7,306.3 L67.9,304.5 L64.3,302.7 L59.7,301.8 L54.3,299.9 L48.8,298.1 L46.1,298.1 L43.4,295.4 L44.3,291.8 L47.0,290.0 L50.7,290.9 L54.3,294.5 L57.0,292.7 L57.0,289.1 L54.3,285.4 L48.8,283.6 L43.4,280.0 L37.9,278.2 L32.5,278.2 L29.8,274.5 L27.0,269.1 L24.3,267.3 L25.2,260.0 L25.2,256.4 L20.7,253.6 L24.3,254.5 L28.0,252.7 L28.9,249.1 L33.4,249.1 L37.9,248.2 L40.7,249.1 L43.4,252.7 L45.2,249.1 L49.7,247.3 L51.6,243.6 L51.6,236.4 L49.7,232.7 L47.9,230.0 L43.4,227.3 L40.7,224.6 L40.7,220.0 L43.4,217.3 L42.5,213.7 L38.9,211.9 L35.2,212.8 L31.6,215.5 L27.0,215.5 L24.3,218.2 L21.6,217.3 L18.9,212.8 L20.7,209.1 L25.2,208.2 L28.9,205.5 L32.5,200.0 L33.4,199.0 L35.2,193.5 L37.9,189.9 L39.8,186.3 L43.4,180.8 L46.1,175.4 L47.0,169.9 L49.7,165.4 L54.3,162.6 L56.1,159.9 L59.7,159.9 L67.0,159.0 L72.5,155.4 L77.9,149.9 L79.7,140.8 L81.5,129.9 L83.4,120.9 L83.4,110.0 L84.3,107.2 L90.6,108.2 L101.5,111.8 L108.8,119.1 L112.4,123.6 L116.0,119.1 L119.7,113.6 L126.9,108.2 L135.1,103.6 L136.0,98.2 L141.5,94.5 L146.0,92.7 L148.7,94.5 L150.6,99.1 L152.4,103.6 L155.1,106.3 L157.8,108.2 L160.5,113.6 L163.3,111.8 L164.2,108.2 L159.6,104.5 L159.6,100.9 L163.3,99.1 L165.1,95.4 L163.3,93.6 L162.4,88.2 L159.6,86.4 L156.0,89.1 L150.6,87.3 L145.1,84.5 L141.5,80.9 L137.8,76.4 L130.6,74.5 L128.8,79.1 L125.1,80.9 L125.1,75.5 L120.6,72.7 L112.4,71.8 L105.1,69.1 L104.2,63.7 L101.5,60.9 L96.1,64.6 L90.6,62.7 L85.2,63.7 L83.4,60.9 L80.6,60.9 L77.9,62.7 L79.7,69.1 L84.3,74.5 L85.2,84.5 L83.4,87.3 L74.3,90.9 L68.8,90.0 L66.1,87.3 L62.5,85.4 L61.6,88.2 L64.3,90.0 L65.2,94.5 L66.1,101.8 L74.3,104.5 L72.5,113.6 L67.0,119.1 L54.3,120.9 L50.7,125.4 L41.6,139.0 L36.1,140.8 L34.3,151.7 L28.0,155.4 L27.0,159.0 M23.4,290.9 L30.7,287.2 L36.1,286.3 L41.6,289.1 L43.4,292.7 L43.4,299.9 L42.5,307.2 L37.9,310.8 L34.3,312.7 L31.6,310.8 L27.0,307.2 L21.6,303.6 L19.8,298.1 L21.6,292.7 L23.4,290.9 M287.8,443.1 L284.0,443.7 L279.2,441.2 L271.9,439.4 L270.1,443.7 L267.7,449.7 L265.3,453.3 L262.3,451.5" fill="none" stroke="#d0d0f6" stroke-width="1.4" stroke-linejoin="round"/><circle cx="255" cy="119" r="6.3" fill="#e8160c"/><path d="M252.5,118.5 a2.6,2.6 0 1 0 4.5,-2" fill="none" stroke="#ffd21a" stroke-width="1.1"/><path d="M252.8,121.2 L256.5,117.2" stroke="#ffd21a" stroke-width="1"/><circle cx="251" cy="181.7" r="6.3" fill="#e8160c"/><path d="M248.5,181.2 a2.6,2.6 0 1 0 4.5,-2" fill="none" stroke="#ffd21a" stroke-width="1.1"/><path d="M248.8,183.89999999999998 L252.5,179.89999999999998" stroke="#ffd21a" stroke-width="1"/><text x="261" y="110" class="lu" fill="#f4f4f4">Luna 20</text><text x="258.5" y="172.7" class="lu" fill="#f4f4f4">Luna 16</text></svg><rect x="0" y="0" width="347.3" height="523.6" fill="none" stroke="#111" stroke-width="1.3"/></g>
<line x1="566.7" y1="39.4" x2="566.7" y2="45.4" stroke="#333" stroke-width="1"/>
<line x1="566.7" y1="569.0" x2="566.7" y2="575.0" stroke="#333" stroke-width="1"/>
<text x="566.7" y="28.7" text-anchor="middle" class="t">40° E</text>
<text x="566.7" y="596.3" text-anchor="middle" class="t">40° E</text>
<line x1="711.4" y1="39.4" x2="711.4" y2="45.4" stroke="#333" stroke-width="1"/>
<line x1="711.4" y1="569.0" x2="711.4" y2="575.0" stroke="#333" stroke-width="1"/>
<text x="711.4" y="28.7" text-anchor="middle" class="t">50° E</text>
<text x="711.4" y="596.3" text-anchor="middle" class="t">50° E</text>
<line x1="856.1" y1="39.4" x2="856.1" y2="45.4" stroke="#333" stroke-width="1"/>
<line x1="856.1" y1="569.0" x2="856.1" y2="575.0" stroke="#333" stroke-width="1"/>
<text x="856.1" y="28.7" text-anchor="middle" class="t">60° E</text>
<text x="856.1" y="596.3" text-anchor="middle" class="t">60° E</text>
<line x1="546.2" y1="74.5" x2="552.2" y2="74.5" stroke="#333" stroke-width="1"/>
<line x1="899.5" y1="74.5" x2="905.5" y2="74.5" stroke="#333" stroke-width="1"/>
<text x="539.1" y="80.9" text-anchor="end" class="t">10° N</text>
<text x="911.7" y="80.9" class="t">10° N</text>
<line x1="546.2" y1="219.9" x2="552.2" y2="219.9" stroke="#333" stroke-width="1"/>
<line x1="899.5" y1="219.9" x2="905.5" y2="219.9" stroke="#333" stroke-width="1"/>
<text x="539.1" y="226.3" text-anchor="end" class="t">0°</text>
<text x="911.7" y="226.3" class="t">0°</text>
<line x1="546.2" y1="365.3" x2="552.2" y2="365.3" stroke="#333" stroke-width="1"/>
<line x1="899.5" y1="365.3" x2="905.5" y2="365.3" stroke="#333" stroke-width="1"/>
<text x="539.1" y="371.7" text-anchor="end" class="t">10° S</text>
<text x="911.7" y="371.7" class="t">10° S</text>
<line x1="546.2" y1="510.7" x2="552.2" y2="510.7" stroke="#333" stroke-width="1"/>
<line x1="899.5" y1="510.7" x2="905.5" y2="510.7" stroke="#333" stroke-width="1"/>
<text x="539.1" y="517.1" text-anchor="end" class="t">20° S</text>
<text x="911.7" y="517.1" class="t">20° S</text>
<text x="504.9" y="49.4" class="pl">(b)</text>
<g transform="translate(77.5,656.6)"><svg x="0" y="0" width="347.3" height="523.6" viewBox="0 0 347.3 523.6" overflow="hidden"><filter id="fc" x="-5%" y="-5%" width="110%" height="110%"><feGaussianBlur stdDeviation="1.5"/></filter><g filter="url(#fc)"><rect x="-20" y="-20" width="390" height="570" fill="rgb(153,240,0)"/><polygon points="-15.0,-15.0 31.0,-15.0 31.0,40.0 -15.0,45.0" fill="rgb(240,25,0)"/><polygon points="-15.0,40.0 31.0,38.0 31.0,80.0 -15.0,82.0" fill="rgb(225,120,0)"/><polygon points="-15.0,80.0 31.0,80.0 30.0,170.0 -15.0,172.0" fill="rgb(180,215,0)"/><polygon points="-15.0,168.0 29.0,165.0 26.0,280.0 -15.0,285.0" fill="rgb(60,232,0)"/><polygon points="-15.0,280.0 26.0,278.0 23.0,540.0 -15.0,540.0" fill="rgb(45,232,0)"/><ellipse cx="10.0" cy="260.0" rx="8.0" ry="18.0" fill="rgb(153,240,0)" opacity="0.8"/><polygon points="34.0,-15.0 47.0,-15.0 47.0,50.0 34.0,53.0" fill="rgb(240,25,0)"/><polygon points="34.0,50.0 47.0,50.0 46.0,110.0 33.0,112.0" fill="rgb(190,210,0)" opacity="0.7"/><polygon points="31.0,200.0 45.0,200.0 43.0,540.0 28.0,540.0" fill="rgb(70,232,0)"/><ellipse cx="36.0" cy="380.0" rx="6.0" ry="20.0" fill="rgb(153,240,0)" opacity="0.6"/><ellipse cx="74.0" cy="18.0" rx="6.0" ry="11.0" fill="rgb(240,90,0)"/><polygon points="100.7,-15.0 216.0,-15.0 216.0,22.0 228.0,30.0 263.0,28.0 298.0,28.0 334.0,21.0 362.0,18.0 362.0,196.0 332.0,196.0 330.0,140.0 290.0,135.0 252.5,137.4 226.9,122.9 216.0,119.3 199.6,112.0 183.3,90.2 166.0,77.5 149.7,59.3 133.3,50.3 117.0,41.2 100.7,14.0" fill="rgb(0,230,0)"/><ellipse cx="290.0" cy="100.0" rx="14.0" ry="8.0" fill="rgb(153,240,0)" opacity="0.6"/><ellipse cx="240.0" cy="50.0" rx="20.0" ry="10.0" fill="rgb(153,240,0)" opacity="0.5"/><polygon points="28.0,300.0 40.0,290.0 63.0,330.0 80.0,345.0 95.0,350.0 110.0,360.0 130.0,360.0 158.0,349.0 158.0,400.0 150.0,420.0 158.0,440.0 160.0,480.0 170.0,500.0 200.0,505.0 240.0,500.0 250.0,480.0 280.0,440.0 288.0,400.0 288.0,300.0 290.0,262.0 300.0,258.0 330.0,230.0 335.0,194.0 362.0,190.0 362.0,540.0 23.0,540.0" fill="rgb(0,230,0)"/><ellipse cx="140.0" cy="428.0" rx="18.0" ry="26.0" fill="rgb(153,240,0)"/><ellipse cx="60.0" cy="460.0" rx="15.0" ry="25.0" fill="rgb(153,240,0)" opacity="0.5"/><ellipse cx="315.0" cy="320.0" rx="12.0" ry="30.0" fill="rgb(153,240,0)" opacity="0.4"/><polygon points="100.0,130.0 181.0,120.0 200.0,180.0 196.0,306.0 100.0,306.0" fill="rgb(178,224,0)"/><polygon points="181.0,97.0 199.0,112.0 216.0,119.0 227.0,123.0 252.0,137.0 260.0,145.0 258.0,190.0 240.0,198.0 200.0,200.0 181.0,180.0" fill="rgb(205,160,0)"/><ellipse cx="195.0" cy="142.0" rx="8.0" ry="14.0" fill="rgb(240,25,0)" opacity="0.7"/><ellipse cx="220.0" cy="160.0" rx="10.0" ry="22.0" fill="rgb(240,25,0)" opacity="0.7"/><ellipse cx="246.0" cy="162.0" rx="7.0" ry="16.0" fill="rgb(240,25,0)" opacity="0.7"/></g><polygon points="30.4,0 33.9,0 24.6,523.6 21.6,523.6" fill="#fff"/><polygon points="46.8,0 67.5,0 58.5,523.6 39.0,523.6" fill="#fff"/><polygon points="80.4,0 100.5,0 92.4,523.6 72.0,523.6" fill="#fff"/><polygon points="113.4,0 116.4,0 108.8,523.6 106.0,523.6" fill="#fff"/><polygon points="130.2,0 133.4,0 125.4,523.6 122.8,523.6" fill="#fff"/><polygon points="147.0,0 150.0,0 142.4,523.6 139.7,523.6" fill="#fff"/><polygon points="162.0,0 165.0,0 159.0,523.6 156.5,523.6" fill="#fff"/><polygon points="179.6,0 183.1,0 176.5,523.6 174.0,523.6" fill="#fff"/><polygon points="195.5,0 199.3,0 192.2,523.6 189.3,523.6" fill="#fff"/><polygon points="212.8,0 216.3,0 209.0,523.6 206.2,523.6" fill="#fff"/><polygon points="287.1,17 290.3,17 283.2,523.6 280.0,523.6" fill="#fff"/><polygon points="328.8,0 332.3,0 325.5,523.6 322.4,523.6" fill="#fff"/><line x1="14.5" y1="0" x2="14.5" y2="523.6" stroke="#8a8a8a" stroke-width="0.8" opacity="0.8"/>
<line x1="159.2" y1="0" x2="159.2" y2="523.6" stroke="#8a8a8a" stroke-width="0.8" opacity="0.8"/>
<line x1="303.9" y1="0" x2="303.9" y2="523.6" stroke="#8a8a8a" stroke-width="0.8" opacity="0.8"/>
<line x1="0" y1="29.1" x2="347.3" y2="29.1" stroke="#8a8a8a" stroke-width="0.8" opacity="0.8"/>
<line x1="0" y1="174.5" x2="347.3" y2="174.5" stroke="#8a8a8a" stroke-width="0.8" opacity="0.8"/>
<line x1="0" y1="319.9" x2="347.3" y2="319.9" stroke="#8a8a8a" stroke-width="0.8" opacity="0.8"/>
<line x1="0" y1="465.3" x2="347.3" y2="465.3" stroke="#8a8a8a" stroke-width="0.8" opacity="0.8"/><path d="M27.0,159.0 L25.2,73.6 L29.8,70.0 L36.1,67.3 L48.8,60.9 L53.4,60.9 L55.2,66.4 L55.2,71.8 L61.6,74.5 L69.7,72.7 M69.7,72.7 L67.9,49.1 L88.8,49.1 L90.6,51.8 L97.9,53.7 L103.3,56.4 L107.9,54.6 L107.0,51.8 L109.7,47.3 L121.5,43.7 L124.2,40.6 L126.9,41.9 L126.9,47.3 L134.2,47.3 L145.1,53.7 L155.1,53.7 L159.6,62.7 L166.9,73.6 L173.3,82.7 L178.7,80.9 L181.4,84.5 L186.0,89.1 L189.6,91.8 L190.5,96.3 L195.0,99.1 L196.9,104.5 L202.3,108.2 L205.9,109.1 L206.9,111.8 L204.1,114.5 L201.4,119.1 L205.9,120.9 L212.3,120.9 L220.5,124.5 L225.9,122.7 L228.6,119.1 L227.7,111.8 L230.5,110.0 L234.1,113.6 L231.4,117.2 L230.5,122.7 L231.4,128.1 L236.8,131.8 L242.3,135.4 L247.7,138.1 L250.4,142.7 L251.4,148.1 L253.2,150.8 L256.8,144.5 L258.6,140.8 L262.3,138.1 L266.8,133.6 L273.1,132.7 L276.8,135.4 L281.3,138.1 L282.2,135.4 L287.7,133.6 L289.5,136.3 L294.9,140.8 L300.4,146.3 L303.1,155.4 L302.2,162.6 L298.6,166.3 L296.8,171.7 L295.9,179.0 L297.7,186.3 L303.1,195.3 L307.7,194.4 L313.1,189.9 L316.7,184.4 L321.3,177.2 L324.0,166.3 L326.7,159.0 L325.8,153.6 L322.2,149.9 L324.0,146.3 L327.6,140.8 L328.5,135.4 L324.0,133.6 L320.4,132.7 L319.5,128.1 L323.1,129.0 L327.6,129.0 L329.5,131.8 L332.2,135.4 L335.8,140.8 L337.6,144.5 L342.2,145.4 L340.4,151.7 L338.5,159.0 L334.0,166.3 L330.4,169.9 L327.6,177.2 L325.8,184.4 L324.9,193.5 L324.9,203.7 L325.8,212.8 L327.6,218.2 L331.3,219.1 L334.0,220.9 L335.8,221.8 L334.0,225.5 L332.2,228.2 L333.1,230.9 L327.6,234.6 L324.0,237.3 L322.2,230.0 L318.6,230.9 L313.1,232.7 L304.0,232.7 L298.6,231.8 L294.9,233.7 L291.3,238.2 L288.6,240.9 L284.0,236.4 L278.6,231.8 L275.9,233.7 L271.3,232.7 L266.8,234.6 L262.3,237.3 L259.5,234.6 L256.8,232.7 L251.4,230.0 L245.9,230.9 L241.4,228.2 L237.7,230.9 L233.2,236.4 L235.0,238.2 L239.5,241.8 L242.3,247.3 L240.5,250.9 L236.8,254.5 L235.9,258.2 L238.6,262.7 L240.5,266.3 L244.1,270.0 L247.7,272.7 L253.2,274.5 L252.3,278.2 L249.5,281.8 L251.4,287.2 L256.8,290.9 L258.6,293.6 L258.6,307.2 L255.0,311.8 L252.3,314.5 L253.2,319.9 L255.0,325.4 L255.9,336.3 L257.7,343.5 L257.7,352.6 L258.6,358.1 L265.9,360.8 L271.3,363.5 L276.8,366.2 L282.2,363.5 L282.3,363.7 L281.6,373.3 L279.8,380.6 L276.8,386.7 L279.8,393.9 L282.3,397.6 L279.8,402.4 L276.2,407.3 L275.0,404.8 L272.6,408.5 L266.5,410.9 L265.3,413.3 L267.7,416.9 L268.3,420.6 L265.3,419.4 L261.7,419.4 L263.5,423.0 L264.1,428.4 L267.7,427.2 L272.6,427.8 L276.2,428.4 L278.0,424.8 L281.0,424.2 L283.5,427.8 L288.3,429.1 L291.9,431.5 L294.4,436.3 L294.4,441.8 L289.5,442.4 L284.7,444.2 L281.0,441.2 L277.4,441.2 L272.6,438.7 L271.4,440.6 L270.1,446.0 L267.7,450.8 L265.3,453.9 L262.3,451.5 L257.4,449.7 L251.4,448.5 L245.3,449.7 L244.1,453.3 L242.9,457.0 L242.3,460.6 L244.1,463.0 L246.5,465.5 L246.5,470.3 L245.9,476.4 L245.3,480.6 L243.5,482.4 L241.7,480.0 L239.2,478.2 L234.4,477.6 L230.8,476.4 L229.0,480.0 L227.1,484.8 L225.9,487.3 L227.7,492.1 L230.2,495.7 L229.0,499.4 L227.1,503.0 L224.7,500.6 L222.9,496.9 L221.1,492.1 L218.7,488.5 L215.0,487.3 L210.2,486.6 L204.1,486.0 L200.5,487.3 L194.4,487.3 L192.6,489.1 L193.2,494.5 L196.9,496.9 L199.3,498.2 L199.9,501.8 L200.5,505.4 L204.1,506.0 L201.7,507.2 L199.3,505.4 L195.7,503.0 L193.8,501.8 L192.0,504.8 L184.8,505.4 L178.7,505.4 L176.3,503.0 L172.6,500.0 L167.8,499.4 L176.8,504.4 L171.3,499.9 L165.9,499.0 L160.4,497.2 L156.8,494.5 L156.8,489.9 L162.3,489.9 L166.8,492.6 L170.4,491.7 L165.9,489.0 L166.8,485.4 L167.7,479.9 L166.8,474.5 L165.9,467.2 L164.1,462.7 L160.4,459.0 L155.0,458.1 L147.7,458.1 L142.3,457.2 L136.8,454.5 L133.2,450.9 L130.5,447.2 L126.8,441.8 L124.1,439.1 L125.9,436.3 L128.6,438.2 L129.6,441.8 L132.3,443.6 L140.5,443.6 L147.7,441.8 L155.0,438.2 L156.8,435.4 L156.8,427.3 L155.0,421.8 L151.4,418.2 L147.7,416.4 L147.7,411.8 L145.9,410.0 L143.2,408.2 L145.9,406.4 L150.4,403.6 L155.0,403.6 L158.6,405.5 L162.3,404.5 L169.5,404.5 L173.1,405.5 L175.0,407.3 L176.8,409.1 L180.4,405.5 L187.7,403.6 L191.3,404.5 L196.8,406.4 L200.4,403.6 L205.8,400.9 L209.5,398.2 L213.1,399.1 L214.9,397.3 L213.1,392.7 L209.5,390.0 L208.6,386.4 L205.8,383.7 L203.1,378.2 L200.4,373.7 L194.9,372.8 L187.7,372.8 L186.8,376.4 L184.0,375.5 L180.4,372.8 L177.7,368.2 L179.5,364.6 L182.2,362.8 L184.0,360.0 L182.2,357.3 L176.8,356.4 L171.3,358.2 L165.9,361.0 L158.6,362.8 L153.2,361.0 L147.7,359.1 L140.5,357.3 L139.7,358.1 L136.0,352.6 L130.6,349.0 L126.9,349.0 L124.2,350.8 L123.3,346.3 L120.6,345.4 L117.9,347.2 L112.4,350.8 L107.9,354.4 L107.0,359.9 L104.2,369.0 L101.5,371.7 L98.8,369.0 L98.8,361.7 L97.9,354.4 L92.4,350.8 L88.8,347.2 L83.4,343.5 L79.7,339.9 L74.3,338.1 L68.8,337.2 L62.5,337.2 L63.4,334.5 L62.5,329.9 L59.7,328.1 L56.1,325.4 L55.2,320.8 L60.6,319.9 L62.5,315.4 L65.2,310.8 L67.0,308.1 L69.7,306.3 L67.9,304.5 L64.3,302.7 L59.7,301.8 L54.3,299.9 L48.8,298.1 L46.1,298.1 L43.4,295.4 L44.3,291.8 L47.0,290.0 L50.7,290.9 L54.3,294.5 L57.0,292.7 L57.0,289.1 L54.3,285.4 L48.8,283.6 L43.4,280.0 L37.9,278.2 L32.5,278.2 L29.8,274.5 L27.0,269.1 L24.3,267.3 L25.2,260.0 L25.2,256.4 L20.7,253.6 L24.3,254.5 L28.0,252.7 L28.9,249.1 L33.4,249.1 L37.9,248.2 L40.7,249.1 L43.4,252.7 L45.2,249.1 L49.7,247.3 L51.6,243.6 L51.6,236.4 L49.7,232.7 L47.9,230.0 L43.4,227.3 L40.7,224.6 L40.7,220.0 L43.4,217.3 L42.5,213.7 L38.9,211.9 L35.2,212.8 L31.6,215.5 L27.0,215.5 L24.3,218.2 L21.6,217.3 L18.9,212.8 L20.7,209.1 L25.2,208.2 L28.9,205.5 L32.5,200.0 L33.4,199.0 L35.2,193.5 L37.9,189.9 L39.8,186.3 L43.4,180.8 L46.1,175.4 L47.0,169.9 L49.7,165.4 L54.3,162.6 L56.1,159.9 L59.7,159.9 L67.0,159.0 L72.5,155.4 L77.9,149.9 L79.7,140.8 L81.5,129.9 L83.4,120.9 L83.4,110.0 L84.3,107.2 L90.6,108.2 L101.5,111.8 L108.8,119.1 L112.4,123.6 L116.0,119.1 L119.7,113.6 L126.9,108.2 L135.1,103.6 L136.0,98.2 L141.5,94.5 L146.0,92.7 L148.7,94.5 L150.6,99.1 L152.4,103.6 L155.1,106.3 L157.8,108.2 L160.5,113.6 L163.3,111.8 L164.2,108.2 L159.6,104.5 L159.6,100.9 L163.3,99.1 L165.1,95.4 L163.3,93.6 L162.4,88.2 L159.6,86.4 L156.0,89.1 L150.6,87.3 L145.1,84.5 L141.5,80.9 L137.8,76.4 L130.6,74.5 L128.8,79.1 L125.1,80.9 L125.1,75.5 L120.6,72.7 L112.4,71.8 L105.1,69.1 L104.2,63.7 L101.5,60.9 L96.1,64.6 L90.6,62.7 L85.2,63.7 L83.4,60.9 L80.6,60.9 L77.9,62.7 L79.7,69.1 L84.3,74.5 L85.2,84.5 L83.4,87.3 L74.3,90.9 L68.8,90.0 L66.1,87.3 L62.5,85.4 L61.6,88.2 L64.3,90.0 L65.2,94.5 L66.1,101.8 L74.3,104.5 L72.5,113.6 L67.0,119.1 L54.3,120.9 L50.7,125.4 L41.6,139.0 L36.1,140.8 L34.3,151.7 L28.0,155.4 L27.0,159.0 M23.4,290.9 L30.7,287.2 L36.1,286.3 L41.6,289.1 L43.4,292.7 L43.4,299.9 L42.5,307.2 L37.9,310.8 L34.3,312.7 L31.6,310.8 L27.0,307.2 L21.6,303.6 L19.8,298.1 L21.6,292.7 L23.4,290.9 M287.8,443.1 L284.0,443.7 L279.2,441.2 L271.9,439.4 L270.1,443.7 L267.7,449.7 L265.3,453.3 L262.3,451.5" fill="none" stroke="#262626" stroke-width="1.15" stroke-linejoin="round"/><circle cx="255" cy="119" r="6.3" fill="#e8160c"/><path d="M252.5,118.5 a2.6,2.6 0 1 0 4.5,-2" fill="none" stroke="#ffd21a" stroke-width="1.1"/><path d="M252.8,121.2 L256.5,117.2" stroke="#ffd21a" stroke-width="1"/><circle cx="251" cy="181.7" r="6.3" fill="#e8160c"/><path d="M248.5,181.2 a2.6,2.6 0 1 0 4.5,-2" fill="none" stroke="#ffd21a" stroke-width="1.1"/><path d="M248.8,183.89999999999998 L252.5,179.89999999999998" stroke="#ffd21a" stroke-width="1"/><text x="261" y="110" class="lu" fill="#222">Luna 20</text><text x="258.5" y="172.7" class="lu" fill="#222">Luna 16</text></svg><rect x="0" y="0" width="347.3" height="523.6" fill="none" stroke="#111" stroke-width="1.3"/></g>
<line x1="92.0" y1="650.6" x2="92.0" y2="656.6" stroke="#333" stroke-width="1"/>
<line x1="92.0" y1="1180.2" x2="92.0" y2="1186.2" stroke="#333" stroke-width="1"/>
<text x="92.0" y="639.9" text-anchor="middle" class="t">40° E</text>
<text x="92.0" y="1207.5" text-anchor="middle" class="t">40° E</text>
<line x1="236.7" y1="650.6" x2="236.7" y2="656.6" stroke="#333" stroke-width="1"/>
<line x1="236.7" y1="1180.2" x2="236.7" y2="1186.2" stroke="#333" stroke-width="1"/>
<text x="236.7" y="639.9" text-anchor="middle" class="t">50° E</text>
<text x="236.7" y="1207.5" text-anchor="middle" class="t">50° E</text>
<line x1="381.4" y1="650.6" x2="381.4" y2="656.6" stroke="#333" stroke-width="1"/>
<line x1="381.4" y1="1180.2" x2="381.4" y2="1186.2" stroke="#333" stroke-width="1"/>
<text x="381.4" y="639.9" text-anchor="middle" class="t">60° E</text>
<text x="381.4" y="1207.5" text-anchor="middle" class="t">60° E</text>
<line x1="71.5" y1="685.7" x2="77.5" y2="685.7" stroke="#333" stroke-width="1"/>
<line x1="424.8" y1="685.7" x2="430.8" y2="685.7" stroke="#333" stroke-width="1"/>
<text x="64.4" y="692.1" text-anchor="end" class="t">10° N</text>
<text x="437.0" y="692.1" class="t">10° N</text>
<line x1="71.5" y1="831.1" x2="77.5" y2="831.1" stroke="#333" stroke-width="1"/>
<line x1="424.8" y1="831.1" x2="430.8" y2="831.1" stroke="#333" stroke-width="1"/>
<text x="64.4" y="837.5" text-anchor="end" class="t">0°</text>
<text x="437.0" y="837.5" class="t">0°</text>
<line x1="71.5" y1="976.5" x2="77.5" y2="976.5" stroke="#333" stroke-width="1"/>
<line x1="424.8" y1="976.5" x2="430.8" y2="976.5" stroke="#333" stroke-width="1"/>
<text x="64.4" y="982.9" text-anchor="end" class="t">10° S</text>
<text x="437.0" y="982.9" class="t">10° S</text>
<line x1="71.5" y1="1121.9" x2="77.5" y2="1121.9" stroke="#333" stroke-width="1"/>
<line x1="424.8" y1="1121.9" x2="430.8" y2="1121.9" stroke="#333" stroke-width="1"/>
<text x="64.4" y="1128.3" text-anchor="end" class="t">20° S</text>
<text x="437.0" y="1128.3" class="t">20° S</text>
<text x="30.2" y="660.6" class="pl">(c)</text>
<g transform="translate(552.2,656.6)"><svg x="0" y="0" width="347.3" height="523.6" viewBox="0 0 347.3 523.6" overflow="hidden"><filter id="fd" x="-5%" y="-5%" width="110%" height="110%"><feGaussianBlur stdDeviation="6"/></filter><g filter="url(#fd)"><rect x="-20" y="-20" width="390" height="570" fill="rgb(225,70,90)"/><polygon points="-15.0,-15.0 174.8,-15.0 174.8,174.4 -15.0,174.4" fill="rgb(225,85,85)"/><polygon points="95.2,-15.0 174.8,-15.0 174.8,52.4 132.2,48.8 105.8,43.5 98.7,25.9" fill="rgb(240,45,55)"/><polygon points="17.5,29.4 70.4,29.4 74.0,61.2 52.8,84.2 17.5,87.7" fill="rgb(180,85,145)"/><polygon points="-15.0,-15.0 93.4,-15.0 95.2,10.0 91.6,20.6 79.3,25.9 66.9,27.7 52.8,29.4 43.9,34.7 35.1,48.8 26.3,61.2 17.5,73.6 10.4,78.9 -15.0,84.2" fill="rgb(45,118,240)"/><polygon points="-15.0,84.2 10.4,78.9 17.5,87.7 19.2,123.0 17.5,174.4 -15.0,174.4" fill="rgb(120,105,200)"/><polygon points="130.5,48.8 141.1,48.8 158.7,57.7 174.8,73.6 174.8,98.3 165.8,112.4 155.2,108.9 141.1,87.7 130.5,73.6" fill="rgb(238,100,65)"/><ellipse cx="35.1" cy="123.0" rx="10.6" ry="10.6" fill="rgb(150,210,110)" opacity="0.7"/><ellipse cx="98.7" cy="84.2" rx="8.8" ry="7.1" fill="rgb(150,210,110)" opacity="0.7"/><ellipse cx="121.6" cy="123.0" rx="7.1" ry="7.1" fill="rgb(100,200,180)" opacity="0.7"/><polygon points="105.8,119.5 123.4,114.2 141.1,108.9 174.8,112.4 174.8,174.4 105.8,174.4 98.7,147.7" fill="rgb(150,120,190)"/><polygon points="81.0,107.1 105.8,115.9 98.7,147.7 81.0,147.7" fill="rgb(200,90,120)"/><polygon points="172.8,-15.0 362.0,-15.0 362.0,174.4 172.8,174.4" fill="rgb(240,45,52)"/><polygon points="216.9,-15.0 362.0,-15.0 362.0,10.0 331.7,15.3 314.1,20.6 296.4,18.8 278.8,22.4 261.1,25.9 243.4,20.6 225.8,17.1 218.7,10.0" fill="rgb(180,140,160)"/><polygon points="216.9,17.1 261.1,27.7 296.4,22.4 296.4,52.4 225.8,52.4" fill="rgb(210,65,110)" opacity="0.6"/><polygon points="305.2,87.7 362.0,78.9 362.0,174.4 305.2,174.4" fill="rgb(240,80,60)"/><polygon points="248.7,133.6 271.7,131.8 287.6,133.6 301.7,144.2 303.5,174.4 248.7,174.4" fill="rgb(150,120,180)"/><ellipse cx="179.9" cy="167.2" rx="14.1" ry="10.6" fill="rgb(100,200,160)"/><polygon points="-15.0,172.4 174.8,172.4 174.8,347.4 -15.0,347.4" fill="rgb(200,90,135)"/><polygon points="-15.0,172.4 21.0,172.4 21.0,347.4 -15.0,347.4" fill="rgb(222,60,100)"/><polygon points="70.4,172.4 174.8,172.4 174.8,304.8 123.4,310.1 88.1,299.5 70.4,287.2" fill="rgb(125,120,210)"/><polygon points="52.8,207.7 88.1,202.4 114.6,198.9 126.9,197.1 130.5,207.7 114.6,209.5 88.1,213.0 52.8,214.8" fill="rgb(150,225,110)" opacity="0.85"/><ellipse cx="123.4" cy="204.2" rx="10.6" ry="14.1" fill="rgb(140,220,120)" opacity="0.8"/><polygon points="70.4,243.0 105.8,246.6 109.3,287.2 74.0,287.2" fill="rgb(80,130,230)"/><polygon points="52.8,304.8 123.4,310.1 123.4,347.4 52.8,347.4" fill="rgb(220,100,100)"/><polygon points="123.4,310.1 174.8,304.8 174.8,347.4 123.4,347.4" fill="rgb(240,130,70)"/><ellipse cx="38.6" cy="300.4" rx="17.7" ry="12.4" fill="rgb(190,80,140)" opacity="0.7"/><polygon points="172.8,172.4 362.0,172.4 362.0,347.4 172.8,347.4" fill="rgb(235,110,80)"/><polygon points="296.4,172.4 362.0,172.4 362.0,347.4 296.4,347.4" fill="rgb(240,65,50)"/><polygon points="269.9,260.7 362.0,260.7 362.0,347.4 269.9,347.4" fill="rgb(242,50,45)"/><polygon points="172.8,198.9 208.1,198.9 208.1,313.7 172.8,313.7" fill="rgb(140,110,190)"/><polygon points="227.5,172.4 254.0,172.4 254.0,200.7 227.5,200.7" fill="rgb(130,120,200)"/><polygon points="254.0,172.4 296.4,172.4 296.4,207.7 254.0,207.7" fill="rgb(160,110,170)"/><polygon points="-15.0,347.4 174.8,347.4 174.8,540.0 -15.0,540.0" fill="rgb(225,70,100)"/><ellipse cx="40.4" cy="377.4" rx="26.5" ry="30.0" fill="rgb(175,85,170)" opacity="0.6"/><ellipse cx="91.6" cy="391.5" rx="30.0" ry="19.4" fill="rgb(190,100,140)" opacity="0.6"/><ellipse cx="91.6" cy="439.2" rx="30.0" ry="30.0" fill="rgb(235,105,80)" opacity="0.6"/><ellipse cx="43.9" cy="488.7" rx="21.2" ry="21.2" fill="rgb(180,90,160)" opacity="0.4"/><polygon points="141.1,400.4 174.8,400.4 174.8,471.0 141.1,471.0" fill="rgb(240,140,60)"/><polygon points="172.8,347.4 362.0,347.4 362.0,540.0 172.8,540.0" fill="rgb(230,115,85)"/><polygon points="305.2,347.4 362.0,347.4 362.0,453.4 305.2,453.4" fill="rgb(240,70,50)"/><polygon points="314.1,347.4 362.0,347.4 362.0,391.5 314.1,391.5" fill="rgb(245,45,40)"/><polygon points="225.8,426.9 296.4,426.9 296.4,540.0 225.8,540.0" fill="rgb(170,160,140)" opacity="0.8"/><polygon points="269.9,462.2 362.0,462.2 362.0,540.0 269.9,540.0" fill="rgb(190,95,150)" opacity="0.8"/><polygon points="172.8,471.0 225.8,471.0 225.8,540.0 172.8,540.0" fill="rgb(215,120,105)" opacity="0.8"/><ellipse cx="261.1" cy="462.2" rx="8.8" ry="8.8" fill="rgb(60,210,200)"/><ellipse cx="248.7" cy="481.6" rx="10.6" ry="10.6" fill="rgb(200,220,80)"/></g><filter id="fds" x="-5%" y="-5%" width="110%" height="110%"><feGaussianBlur stdDeviation="2"/></filter><g filter="url(#fds)"><polygon points="70.4,151.3 91.6,149.5 95.2,165.4 88.1,168.9 70.4,161.9" fill="rgb(60,100,230)"/><polygon points="172.8,94.8 183.4,91.2 194.0,98.3 208.1,112.4 218.7,123.0 231.1,130.1 247.0,138.9 250.5,147.7 248.7,174.4 197.5,174.4 197.5,153.0 183.4,146.0 172.8,140.7" fill="rgb(45,110,242)"/><polygon points="84.6,266.0 96.9,262.5 105.8,267.8 114.6,269.5 123.4,262.5 126.9,243.0 137.5,243.0 149.9,248.3 141.1,253.6 135.8,264.2 123.4,273.1 114.6,281.9 105.8,278.4 95.2,274.8" fill="rgb(45,110,242)"/><polygon points="172.8,172.4 227.5,172.4 229.3,186.5 215.2,190.1 204.6,198.9 195.8,202.4 192.2,213.0 183.4,204.2 179.9,198.9 181.6,191.8 172.8,188.3" fill="rgb(45,110,242)"/></g><rect x="6.9" y="278.4" width="3.9" height="245.60000000000002" fill="#fff" opacity="1"/><rect x="67.8" y="0" width="1.6" height="222" fill="#fff" opacity="0.8"/><rect x="83.7" y="0" width="1.3" height="174" fill="#fff" opacity="0.7"/><rect x="99.6" y="0" width="1.2" height="21" fill="#fff" opacity="0.7"/><rect x="276.1" y="0" width="1.2" height="314" fill="#fff" opacity="0.85"/><rect x="291.5" y="20" width="1.4" height="294" fill="#fff" opacity="0.85"/><rect x="307.4" y="22" width="1.0" height="152" fill="#fff" opacity="0.8"/><rect x="339.7" y="0" width="0.9" height="40" fill="#fff" opacity="0.8"/><rect x="338.8" y="212" width="1.4" height="312" fill="#fff" opacity="0.8"/><rect x="52.8" y="197" width="0.8" height="55" fill="#fff" opacity="0.6"/><rect x="107.5" y="409" width="0.8" height="115" fill="#fff" opacity="0.6"/><rect x="123.4" y="347" width="0.8" height="177" fill="#fff" opacity="0.6"/><line x1="14.5" y1="0" x2="14.5" y2="523.6" stroke="#8a8a8a" stroke-width="0.8" opacity="0.8"/>
<line x1="159.2" y1="0" x2="159.2" y2="523.6" stroke="#8a8a8a" stroke-width="0.8" opacity="0.8"/>
<line x1="303.9" y1="0" x2="303.9" y2="523.6" stroke="#8a8a8a" stroke-width="0.8" opacity="0.8"/>
<line x1="0" y1="29.1" x2="347.3" y2="29.1" stroke="#8a8a8a" stroke-width="0.8" opacity="0.8"/>
<line x1="0" y1="174.5" x2="347.3" y2="174.5" stroke="#8a8a8a" stroke-width="0.8" opacity="0.8"/>
<line x1="0" y1="319.9" x2="347.3" y2="319.9" stroke="#8a8a8a" stroke-width="0.8" opacity="0.8"/>
<line x1="0" y1="465.3" x2="347.3" y2="465.3" stroke="#8a8a8a" stroke-width="0.8" opacity="0.8"/><path d="M80.5,147.8 L81.4,137.9 L82.3,128.8 L81.4,119.7 L82.3,112.4 L83.2,107.9 L89.5,107.0 L96.8,109.7 L102.3,113.3 L105.9,117.0 L109.5,120.6 L112.2,123.3 L116.8,119.7 L120.4,115.1 L122.2,111.5 L127.7,108.8 L133.1,105.2 L135.1,102.7 L135.7,99.1 L139.9,97.9 L142.3,94.3 L144.8,92.4 L147.2,94.3 L148.4,97.9 L149.6,102.7 L152.0,106.4 L155.7,108.8 L159.3,112.4 L161.7,113.0 L164.1,111.2 L166.5,108.8 L163.5,107.6 L161.7,106.4 L159.3,102.7 L157.5,100.3 L156.9,96.7 L158.1,95.5 L162.9,96.7 M105.9,117.9 L104.1,123.3 L102.3,128.8 L98.6,136.0 L95.0,142.4 L93.2,148.7 M80.5,147.8 L93.2,148.7 L95.0,156.0 L93.2,161.5 L95.0,166.9 L98.6,170.5 L96.8,174.2 L91.4,173.3 L84.1,170.5 L76.8,168.7 L69.6,166.9 L65.9,163.3 L67.7,159.6 L73.2,152.4 L80.5,147.8 M67.7,161.5 L62.3,161.5 L56.8,159.6 L54.1,161.5 L51.4,166.9 L49.6,170.5 L45.9,174.2 L44.1,179.6 L40.5,183.3 L38.7,188.7 L36.9,192.3 L35.0,197.8 L31.4,203.2 L27.8,206.9 L22.3,208.7 L20.5,212.3 L22.3,216.0 L26.0,217.8 L31.4,216.9 L36.9,216.0 L40.5,218.7 L44.1,217.8 L49.6,216.0 L55.0,210.5 M85.9,171.5 L85.9,179.6 L84.1,188.7 L80.5,197.8 L76.8,203.2 L69.6,203.2 L62.3,201.4 L58.7,205.1 L55.0,210.5 M180.4,152.4 L176.7,146.9 L171.3,143.3 L162.2,139.7 L153.1,134.2 L145.8,130.6 L131.3,130.6 L129.5,139.7 L128.6,148.7 L129.5,157.8 L134.9,166.9 L142.2,172.4 L149.5,177.8 L156.7,181.4 L165.8,186.9 L174.9,190.5 L182.2,194.2 L187.8,196.0 M187.8,87.9 L180.4,85.2 L174.9,79.7 L167.6,74.3 L162.2,65.2 L158.6,57.9 L153.1,54.3 L147.7,53.4 L142.2,50.7 L136.8,47.9 M136.3,47.6 L139.9,50.1 L146.0,54.3 L149.6,55.5 L155.7,54.9 L159.3,61.6 L162.9,68.8 L167.8,73.7 L171.4,78.5 L173.8,83.4 L177.4,84.6 L179.9,82.1 L181.7,85.8 L185.9,89.4 L189.6,91.8 L190.8,96.7 L194.4,99.1 L198.0,103.9 L202.9,107.6 L207.7,109.4 L208.9,112.4 L205.3,114.8 L204.1,117.3 L200.5,120.9 L198.0,122.7 L201.7,120.9 L207.7,119.7 L212.6,122.1 L217.4,123.9 L219.8,127.0 L223.5,124.5 L224.7,122.1 L227.1,118.5 L227.1,111.2 L229.5,110.0 L234.4,113.6 L230.7,118.5 L228.3,120.9 L231.9,128.2 L234.4,129.4 L236.8,131.8 L240.4,135.4 L244.0,136.6 L245.9,137.9 L249.5,141.5 L251.4,147.0 L253.2,150.6 L255.0,147.0 L256.8,141.5 L260.4,137.9 L264.1,134.3 L269.5,132.5 L276.8,133.4 L282.2,134.3 L285.9,135.2 L291.3,136.1 L294.9,139.7 L300.4,145.2 L303.1,152.4 L302.2,159.7 L298.6,165.2 L296.8,172.4 L297.7,181.5 L298.6,190.6 L296.8,197.9 L293.1,205.1 L288.6,208.7 L284.0,206.9 L280.4,203.3 L276.8,199.7 L271.3,196.0 L265.9,194.2 L258.6,195.1 L254.1,196.9 L247.7,201.5 M136.3,47.6 L133.2,49.5 L132.6,55.5 L132.6,60.4 L129.6,63.4 L130.2,67.6 L135.1,72.5 L139.9,77.3 L143.5,82.1 L146.0,86.4 L152.0,88.2 L156.9,89.4 L158.1,86.4 L161.1,85.8 L161.7,88.2 L164.1,93.0 L166.5,95.5 L167.8,96.7 M167.8,96.7 L172.6,94.9 L177.4,94.3 L182.3,93.7 L187.1,93.0 L190.2,94.3 M167.8,96.7 L170.2,101.5 L173.8,106.4 L175.0,111.2 L173.8,116.1 L178.7,119.7 L183.5,123.3 L187.1,122.1 L188.3,124.5 L192.0,125.7 L193.2,128.2 L190.8,130.6 L189.6,134.2 L187.1,137.9 L183.5,135.4 L179.9,131.8 L177.4,133.0 L176.2,137.9 L176.2,143.9 L177.4,146.3 L181.1,150.0 L182.3,153.0 L185.9,150.0 L189.6,147.5 L194.4,146.3 L197.4,148.7 L198.0,154.8 L199.2,163.4 M249.5,141.5 L249.5,154.3 L251.4,159.7 L256.8,163.3 L260.4,167.0 L259.5,176.1 L256.8,181.5 L255.0,187.0 L254.1,196.9 M200.5,165.2 L204.1,170.6 L207.8,173.3 L211.4,168.8 L216.8,167.0 L224.1,167.9 L227.7,170.6 L229.6,176.1 L225.9,181.5 L224.1,188.8 L229.6,192.4 L236.8,196.0 L242.3,199.7 L247.7,201.5 L248.6,208.7 L247.7,216.0 L245.9,223.3 L247.7,225.1 L244.1,228.7 L240.5,223.3 L236.8,221.5 L229.6,219.6 L225.9,217.8 L222.3,223.3 L220.5,230.5 L215.0,230.5 L209.6,232.4 L204.1,234.2 L205.0,245.1 L207.8,250.5 L213.2,256.0 L220.5,259.6 L225.9,261.4 L231.4,259.6 L236.8,261.4 L240.5,266.9 L244.1,272.3 L238.6,274.1 L231.4,276.0 L222.3,274.1 L216.8,272.3 L209.6,270.5 L204.1,279.6 L203.2,283.4 M167.8,187.0 L175.1,190.6 L180.5,194.2 L178.7,199.7 L184.1,205.1 L187.8,210.6 L191.4,214.2 L195.0,208.7 L198.7,203.3 L204.1,199.7 L211.4,197.9 L216.8,194.2 L224.1,188.8 M200.5,165.2 L198.7,148.8 L195.0,147.0 L189.6,148.8 L182.3,152.4 L178.7,148.8 L176.9,143.4 L175.1,136.1 L178.7,132.5 L182.3,132.5 L187.8,127.0 L191.4,125.2 L189.6,121.6 L186.0,119.7 L182.3,121.6 L178.7,117.9 L175.1,114.3 L173.2,110.7 L175.1,105.2 L176.9,103.4 M27.8,207.0 L20.5,210.7 L19.6,214.3 L22.3,217.0 L29.6,216.1 L35.0,214.3 L40.5,216.1 L44.1,219.7 L41.4,223.4 L42.3,227.0 L47.8,230.6 L51.4,234.3 L56.8,236.1 L62.3,237.9 L65.9,237.9 L69.6,234.3 L67.7,231.6 L73.2,230.6 L78.6,229.7 L80.5,228.8 L81.4,232.5 L80.5,236.1 L82.3,241.5 L80.5,247.0 L76.8,252.4 L75.0,257.9 L72.3,263.3 L71.4,268.8 L73.2,276.1 L75.9,277.9 L76.8,281.5 M51.4,234.3 L47.8,239.7 L42.3,242.5 L35.0,244.3 L27.8,247.0 L26.0,250.6 L24.1,256.1 L26.0,261.5 L25.1,270.6 L27.8,274.2 L31.4,277.9 L35.0,279.7 L40.5,283.3 L44.1,285.1 L51.4,287.0 L55.9,288.8 L57.7,292.4 L55.9,294.2 L51.4,292.4 M22.3,292.4 L27.8,288.8 L35.0,287.0 L40.5,288.8 L44.1,292.4 L45.0,296.0 L42.3,301.5 L38.7,306.9 L36.0,312.4 L31.4,310.6 L26.0,306.9 L22.3,303.3 L20.5,297.9 L22.3,292.4 M44.1,292.4 L51.4,296.0 L58.7,299.7 L65.9,302.4 L70.5,305.1 L67.7,308.7 L62.3,314.2 L58.7,319.6 L55.9,323.3 L57.7,326.9 L62.3,328.7 L64.1,334.2 L65.9,337.8 L73.2,341.4 L80.5,345.1 L84.1,346.9 L89.5,348.7 L95.0,352.3 L98.6,357.8 L100.4,363.2 L101.3,370.5 L104.1,368.7 L106.8,363.2 L107.7,357.8 L106.8,352.3 L109.5,348.7 L111.3,346.9 L116.8,346.9 L124.0,348.7 L131.3,350.5 L134.9,354.2 L138.6,356.9 L145.8,357.8 L153.1,358.7 L162.2,359.6 L167.6,357.8 L173.1,356.0 L178.5,354.2 L182.2,357.8 L184.9,366.9 L187.8,370.5 M70.5,305.1 L69.6,310.6 L68.6,316.0 L69.6,321.5 L71.4,326.9 L76.8,328.7 L84.1,330.5 L91.4,330.5 L98.6,330.5 L104.1,328.7 L105.9,325.1 L104.1,319.6 L100.4,314.2 L95.0,310.6 L89.5,306.9 L85.9,299.7 L87.7,296.0 L91.4,297.9 L96.8,301.5 L102.3,305.1 L105.9,308.7 L109.5,314.2 L113.1,321.5 L116.8,326.9 L122.2,330.5 L116.8,330.5 L111.3,332.4 L109.5,336.0 L111.3,339.6 L113.1,343.3 L115.0,346.9 M84.1,267.0 L91.4,263.3 L96.8,261.5 L100.4,265.2 L105.9,268.8 L111.3,270.6 L116.8,268.8 L124.0,267.0 L127.7,263.3 L129.5,257.9 L127.7,250.6 L127.7,245.2 L131.3,242.5 L134.9,241.5 L138.6,243.4 L142.2,247.0 L145.8,247.9 L149.5,248.8 L147.7,250.6 L142.2,252.4 L136.8,257.9 L134.9,263.3 L133.1,268.8 L127.7,274.2 L120.4,277.9 L115.0,281.5 L111.3,281.5 L107.7,277.9 L102.3,276.1 L95.0,274.2 L87.7,270.6 L84.1,267.0 M187.8,292.4 L182.2,299.7 L174.9,306.9 L167.6,314.2 L164.0,317.8 L160.4,316.0 L156.7,312.4 L158.6,306.9 L153.1,305.1 L145.8,304.2 L138.6,304.2 L134.9,306.9 L133.1,312.4 L131.3,317.8 L133.1,321.5 L127.7,321.5 L124.0,319.6 L120.4,316.0 L116.8,312.4 L113.1,306.9 L109.5,299.7 L107.7,296.0 L104.1,292.4 M204.1,243.4 L209.6,247.0 L216.8,252.5 L224.1,257.9 L228.6,261.6 L231.4,259.7 L235.0,259.7 L238.6,263.4 L239.5,267.0 L244.1,270.6 L242.3,272.5 L236.8,274.3 L231.4,272.5 L224.1,270.6 L216.8,268.8 L210.5,268.8 L207.7,274.3 L204.1,279.7 L207.7,283.4 L213.2,287.0 L218.6,291.5 L215.9,294.3 L209.6,293.3 L202.3,292.4 L200.5,288.8 L195.0,287.9 L187.8,287.0 L189.6,290.6 L191.4,296.1 L185.9,301.5 L178.7,307.0 L171.4,312.4 L165.1,317.9 L160.5,315.1 L156.9,312.4 L156.0,308.8 L158.7,305.2 L153.2,303.3 L147.8,301.5 M191.4,296.1 L202.3,297.9 L204.1,299.7 L202.3,307.0 L200.5,316.1 L197.7,323.3 L195.9,330.6 L204.1,332.4 L205.9,341.5 L213.2,345.1 L220.5,350.6 L227.7,354.2 L235.0,357.8 L240.4,361.5 L245.9,368.7 L251.3,366.9 L256.8,365.1 L260.4,368.7 L264.0,374.2 L265.0,381.4 L264.0,388.7 L262.2,394.2 L258.6,394.2 L256.8,397.8 L255.0,403.2 L252.2,403.2 L251.3,397.8 L249.5,396.0 L247.7,399.6 L246.8,406.0 L243.2,406.9 L242.3,416.0 L244.1,423.4 M147.8,357.8 L153.2,359.6 L156.9,362.4 L164.1,360.6 L171.4,357.8 L176.9,356.0 L182.3,357.8 L184.1,361.5 L181.4,366.9 L180.5,370.5 L184.1,374.2 L187.8,373.3 L195.0,374.2 L200.5,376.0 L204.1,379.6 L205.9,383.3 L207.7,388.7 L210.5,390.5 L211.4,394.2 L213.2,397.8 L209.6,401.4 L207.7,403.2 L213.2,408.7 L218.6,414.1 L224.1,419.6 L227.7,423.4 M147.8,403.2 L155.1,403.2 L162.3,404.1 L169.6,405.1 L173.2,406.9 L176.9,414.1 L177.8,423.4 M98.7,353.4 L100.5,358.8 L102.3,364.3 L100.5,370.7 L104.1,369.7 L106.0,364.3 L106.9,358.8 L107.8,353.4 M136.8,355.2 L142.3,357.9 L149.6,359.8 L156.8,361.6 L164.1,360.7 L171.4,358.8 L176.8,356.1 L182.3,357.0 L184.1,360.7 L180.4,364.3 L178.6,367.9 L180.4,371.6 L185.9,373.4 L186.8,376.1 L189.5,373.4 L196.8,373.4 L202.2,377.0 L204.0,380.6 L207.7,384.3 L209.5,389.7 L213.1,391.5 L214.9,397.0 L213.1,398.8 L209.5,400.6 L207.7,402.4 L214.9,407.9 L222.2,415.2 L229.5,422.4 L236.7,429.7 L241.3,432.4 L243.1,426.1 L243.1,413.3 L242.2,406.1 L247.6,404.3 L251.3,400.6 L254.9,395.2 L262.2,393.4 L264.9,386.1 L264.9,375.2 L262.2,369.7 L258.5,366.1 L251.3,367.0 L245.8,367.9 L240.4,362.5 L233.1,357.0 L227.7,353.4 M189.5,406.1 L195.0,404.3 L202.2,406.1 L211.3,411.5 L214.9,415.2 L218.6,424.2 L224.0,427.9 L226.8,431.5 L225.8,437.0 L222.2,438.8 L214.9,437.9 L211.3,435.1 L204.0,431.5 L196.8,427.9 L191.3,424.2 L193.1,420.6 L191.3,415.2 L188.6,411.5 L189.5,406.1 M144.1,407.9 L147.7,406.1 L151.4,404.3 L160.5,405.2 L171.4,405.2 L174.1,407.9 L176.8,417.0 L178.6,422.4 L184.1,426.1 L193.1,429.7 L200.4,433.3 L207.7,437.0 L214.9,440.6 L222.2,446.0 L227.7,451.5 L222.2,453.3 L221.3,462.4 L222.2,471.5 L224.0,480.5 L225.8,489.6 L228.6,495.1 L227.7,498.7 L222.2,500.5 L222.2,495.1 L218.6,489.6 L213.1,487.8 L205.9,486.9 L198.6,487.8 L193.1,488.7 L195.0,495.1 L198.6,500.5 L202.2,504.2 L200.4,506.9 L196.8,506.0 L189.5,505.6 L182.3,506.0 L175.0,505.1 L171.4,502.3 L165.9,500.5 L160.5,498.7 L156.8,495.1 L156.8,491.4 L164.1,490.5 L169.5,491.4 L167.7,487.8 L165.9,480.5 L166.8,473.3 L165.9,464.2 L167.7,458.7 L165.9,453.3 L166.8,444.2 L165.9,433.3 M144.1,407.9 L147.7,413.3 L153.2,418.8 L155.0,426.1 L156.8,435.1 L153.2,437.0 L145.9,438.8 L136.8,440.6 L131.4,440.6 L127.8,438.8 L125.9,440.6 L129.6,442.4 L133.2,447.9 L136.8,452.4 L142.3,455.1 L151.4,456.9 L158.6,457.8 L164.1,460.6 L167.7,462.4 M156.8,435.1 L165.9,431.5 L165.9,433.3" fill="none" stroke="#141414" stroke-width="1.15" stroke-linejoin="round"/><circle cx="255" cy="119" r="6.3" fill="#e8160c"/><path d="M252.5,118.5 a2.6,2.6 0 1 0 4.5,-2" fill="none" stroke="#ffd21a" stroke-width="1.1"/><path d="M252.8,121.2 L256.5,117.2" stroke="#ffd21a" stroke-width="1"/><circle cx="251" cy="181.7" r="6.3" fill="#e8160c"/><path d="M248.5,181.2 a2.6,2.6 0 1 0 4.5,-2" fill="none" stroke="#ffd21a" stroke-width="1.1"/><path d="M248.8,183.89999999999998 L252.5,179.89999999999998" stroke="#ffd21a" stroke-width="1"/><text x="262" y="109.8" class="lu" fill="#111">Luna 20</text><text x="225.8" y="173.3" class="lu" fill="#111">Luna 16</text><text x="78.4" y="133.6" class="dl">3.67</text><text x="72.2" y="163.6" class="dl">3.61</text><text x="135.8" y="166.3" class="dl">3.67/4.04</text><text x="210.8" y="152.1" class="dl">3.36</text><text x="266.4" y="171.6" class="dl">3.58</text><text x="50.1" y="192.7" class="dl">3.53</text><text x="37.8" y="265.1" class="dl">3.63</text><text x="119" y="243" class="dl">3.47/3.69</text><text x="115.5" y="268.6" class="dl">3.54</text><text x="66" y="343.7" class="dl">3.14/3.68</text><text x="147.3" y="341" class="dl">3.68</text><text x="174.6" y="189.2" class="dl">3.34/3.62</text><text x="194" y="426.9" class="dl">3.71</text><text x="171.5" y="462.6" class="dl">3.61/3.69</text><text x="139.3" y="453.3" class="dl">3.62</text></svg><rect x="0" y="0" width="347.3" height="523.6" fill="none" stroke="#111" stroke-width="1.3"/></g>
<line x1="566.7" y1="650.6" x2="566.7" y2="656.6" stroke="#333" stroke-width="1"/>
<line x1="566.7" y1="1180.2" x2="566.7" y2="1186.2" stroke="#333" stroke-width="1"/>
<text x="566.7" y="639.9" text-anchor="middle" class="t">40° E</text>
<text x="566.7" y="1207.5" text-anchor="middle" class="t">40° E</text>
<line x1="711.4" y1="650.6" x2="711.4" y2="656.6" stroke="#333" stroke-width="1"/>
<line x1="711.4" y1="1180.2" x2="711.4" y2="1186.2" stroke="#333" stroke-width="1"/>
<text x="711.4" y="639.9" text-anchor="middle" class="t">50° E</text>
<text x="711.4" y="1207.5" text-anchor="middle" class="t">50° E</text>
<line x1="856.1" y1="650.6" x2="856.1" y2="656.6" stroke="#333" stroke-width="1"/>
<line x1="856.1" y1="1180.2" x2="856.1" y2="1186.2" stroke="#333" stroke-width="1"/>
<text x="856.1" y="639.9" text-anchor="middle" class="t">60° E</text>
<text x="856.1" y="1207.5" text-anchor="middle" class="t">60° E</text>
<line x1="546.2" y1="685.7" x2="552.2" y2="685.7" stroke="#333" stroke-width="1"/>
<line x1="899.5" y1="685.7" x2="905.5" y2="685.7" stroke="#333" stroke-width="1"/>
<text x="539.1" y="692.1" text-anchor="end" class="t">10° N</text>
<text x="911.7" y="692.1" class="t">10° N</text>
<line x1="546.2" y1="831.1" x2="552.2" y2="831.1" stroke="#333" stroke-width="1"/>
<line x1="899.5" y1="831.1" x2="905.5" y2="831.1" stroke="#333" stroke-width="1"/>
<text x="539.1" y="837.5" text-anchor="end" class="t">0°</text>
<text x="911.7" y="837.5" class="t">0°</text>
<line x1="546.2" y1="976.5" x2="552.2" y2="976.5" stroke="#333" stroke-width="1"/>
<line x1="899.5" y1="976.5" x2="905.5" y2="976.5" stroke="#333" stroke-width="1"/>
<text x="539.1" y="982.9" text-anchor="end" class="t">10° S</text>
<text x="911.7" y="982.9" class="t">10° S</text>
<line x1="546.2" y1="1121.9" x2="552.2" y2="1121.9" stroke="#333" stroke-width="1"/>
<line x1="899.5" y1="1121.9" x2="905.5" y2="1121.9" stroke="#333" stroke-width="1"/>
<text x="539.1" y="1128.3" text-anchor="end" class="t">20° S</text>
<text x="911.7" y="1128.3" class="t">20° S</text>
<text x="504.9" y="660.6" class="pl">(d)</text>
<defs><linearGradient id="cb434" x1="0" y1="0" x2="0" y2="1"><stop offset="0" stop-color="#ff0000"/><stop offset="0.12" stop-color="#ff5500"/><stop offset="0.22" stop-color="#ffa500"/><stop offset="0.34" stop-color="#ffff00"/><stop offset="0.45" stop-color="#a0ff20"/><stop offset="0.5" stop-color="#80ff80"/><stop offset="0.505" stop-color="#00f070"/><stop offset="0.57" stop-color="#00f090"/><stop offset="0.665" stop-color="#00ffff"/><stop offset="0.77" stop-color="#00b0ff"/><stop offset="0.88" stop-color="#0060ff"/><stop offset="1" stop-color="#0000ff"/></linearGradient></defs><rect x="434" y="430.8" width="45.69999999999999" height="144.99999999999994" fill="url(#cb434)"/><text x="434.3" y="423.3" class="s">FeO (wt%)</text><text x="489.2" y="435.3" class="s">20</text><text x="489.7" y="580.1999999999999" class="s">3</text><line x1="479.7" y1="430.8" x2="483.7" y2="430.8" stroke="#777" stroke-width="0.8"/><line x1="479.7" y1="502.29999999999995" x2="483.7" y2="502.29999999999995" stroke="#888" stroke-width="0.6"/><line x1="479.7" y1="504.29999999999995" x2="483.7" y2="504.29999999999995" stroke="#888" stroke-width="0.6"/>
<defs><linearGradient id="cb908" x1="0" y1="0" x2="0" y2="1"><stop offset="0" stop-color="#ff0000"/><stop offset="0.12" stop-color="#ff5500"/><stop offset="0.22" stop-color="#ffa500"/><stop offset="0.34" stop-color="#ffff00"/><stop offset="0.45" stop-color="#a0ff20"/><stop offset="0.5" stop-color="#80ff80"/><stop offset="0.505" stop-color="#00f070"/><stop offset="0.57" stop-color="#00f090"/><stop offset="0.665" stop-color="#00ffff"/><stop offset="0.77" stop-color="#00b0ff"/><stop offset="0.88" stop-color="#0060ff"/><stop offset="1" stop-color="#0000ff"/></linearGradient></defs><rect x="908.5" y="431" width="45.5" height="145.79999999999995" fill="url(#cb908)"/><text x="909" y="423.3" class="s">TiO<tspan font-size="8" dy="2.5">2</tspan><tspan dy="-2.5"> (wt%)</tspan></text><text x="963.5" y="435.5" class="s">10</text><text x="964" y="581.1999999999999" class="s">2</text><line x1="954" y1="431" x2="958" y2="431" stroke="#777" stroke-width="0.8"/><line x1="954" y1="502.9" x2="958" y2="502.9" stroke="#888" stroke-width="0.6"/><line x1="954" y1="504.9" x2="958" y2="504.9" stroke="#888" stroke-width="0.6"/>
<text x="426.6" y="1034.2" class="s">Al<tspan font-size="8" dy="2.5">2</tspan><tspan dy="-2.5">O</tspan><tspan font-size="8" dy="2.5">3</tspan><tspan dy="-2.5"> (wt%)</tspan></text><rect x="426.1" y="1042.8" width="34.8" height="14" fill="#ff0000" stroke="#666" stroke-width="1"/><text x="467.5" y="1054.6" class="s">&lt; 11</text><rect x="426.1" y="1062.0" width="34.8" height="14" fill="#ffb000" stroke="#666" stroke-width="1"/><text x="467.5" y="1073.8" class="s">11- 13</text><rect x="426.1" y="1081.2" width="34.8" height="14" fill="#99ff00" stroke="#666" stroke-width="1"/><text x="467.5" y="1093.0" class="s">13 - 20</text><rect x="426.1" y="1100.4" width="34.8" height="14" fill="#00ee00" stroke="#666" stroke-width="1"/><text x="467.5" y="1112.2" class="s">&gt; 20</text>
</svg></body></html>
